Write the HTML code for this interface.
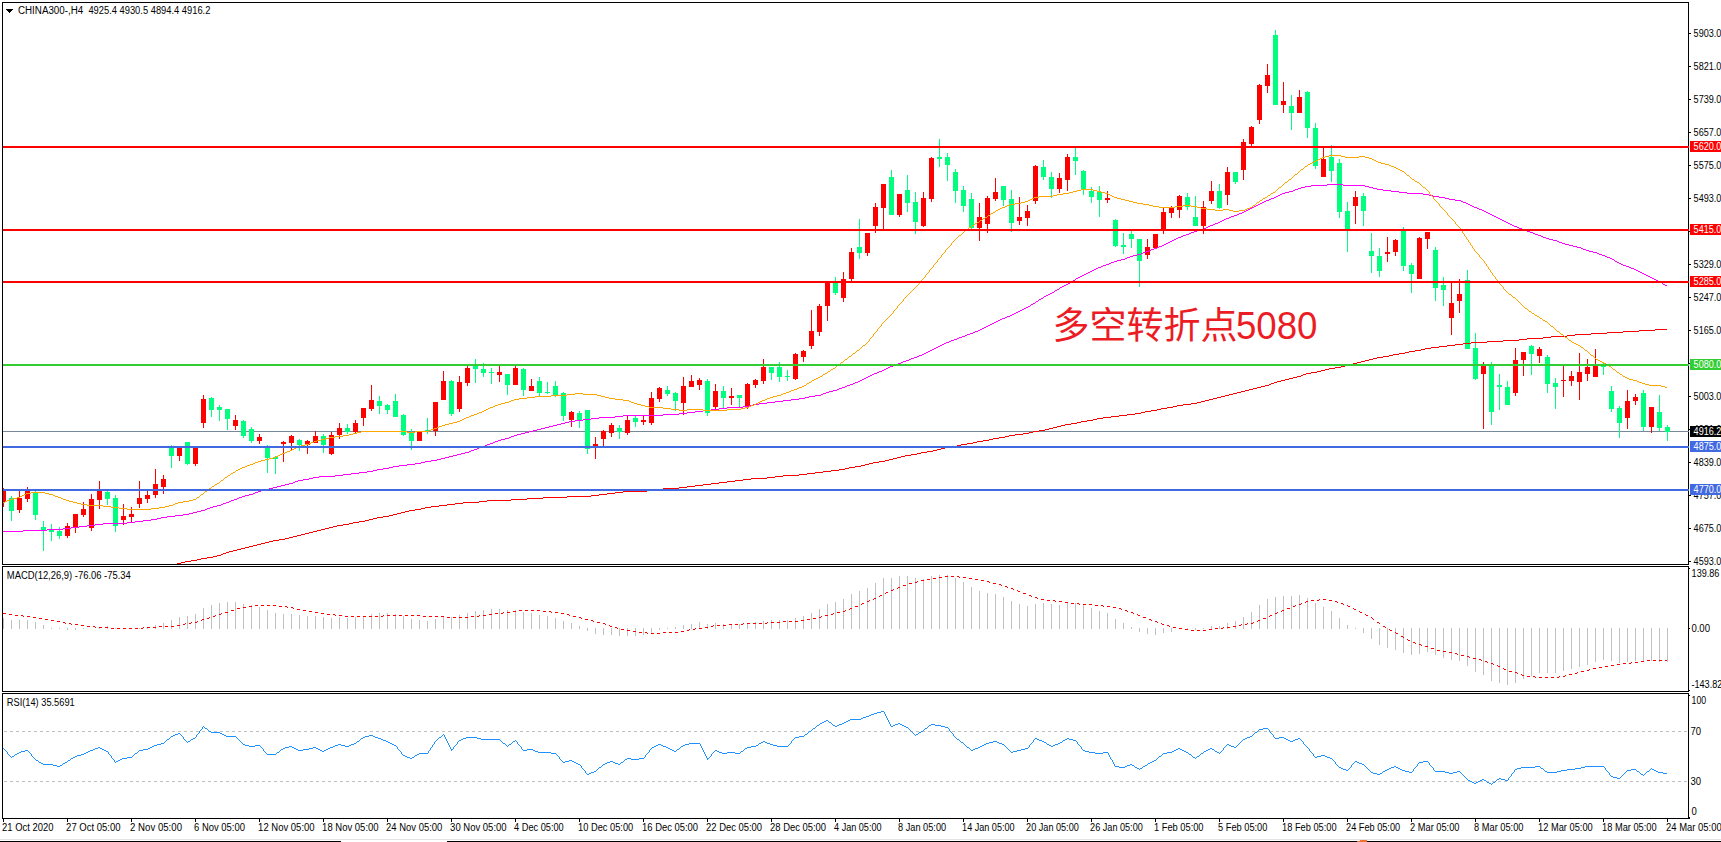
<!DOCTYPE html><html><head><meta charset="utf-8"><title>CHINA300 H4</title><style>html,body{margin:0;padding:0;background:#fff;width:1721px;height:842px;overflow:hidden}svg{display:block}</style></head><body><svg width="1721" height="842" viewBox="0 0 1721 842" font-family="'Liberation Sans',sans-serif" shape-rendering="crispEdges" text-rendering="optimizeLegibility"><rect x="2" y="2" width="1687" height="1" fill="#000"/><rect x="2" y="564" width="1687" height="1" fill="#000"/><rect x="2" y="2" width="1" height="563" fill="#000"/><rect x="1688" y="2" width="1" height="563" fill="#000"/><rect x="2" y="566" width="1687" height="1" fill="#000"/><rect x="2" y="691" width="1687" height="1" fill="#000"/><rect x="2" y="566" width="1" height="126" fill="#000"/><rect x="1688" y="566" width="1" height="126" fill="#000"/><rect x="2" y="693" width="1687" height="1" fill="#000"/><rect x="2" y="818" width="1687" height="1" fill="#000"/><rect x="2" y="693" width="1" height="126" fill="#000"/><rect x="1688" y="693" width="1" height="126" fill="#000"/><clipPath id="cm"><rect x="3" y="3" width="1685" height="561"/></clipPath><rect x="3" y="431" width="1686" height="1" fill="#778899"/><g clip-path="url(#cm)"><path d="M3,488h1v19h-1z M1,489h5v13h-5z M19,491h1v22h-1z M17,498h5v12h-5z M27,487h1v15h-1z M25,491h5v8h-5z M67,523h1v15h-1z M65,526h5v10h-5z M75,514h1v19h-1z M73,514h5v13h-5z M83,502h1v15h-1z M81,509h5v6h-5z M91,494h1v37h-1z M89,499h5v29h-5z M99,481h1v28h-1z M97,491h5v9h-5z M123,504h1v21h-1z M121,516h5v4h-5z M131,507h1v15h-1z M129,514h5v3h-5z M139,481h1v27h-1z M137,498h5v6h-5z M147,491h1v12h-1z M145,495h5v4h-5z M155,469h1v29h-1z M153,484h5v11h-5z M163,475h1v19h-1z M161,479h5v8h-5z M179,448h1v13h-1z M177,448h5v8h-5z M195,447h1v19h-1z M193,447h5v17h-5z M203,395h1v33h-1z M201,399h5v24h-5z M235,415h1v15h-1z M233,420h5v6h-5z M259,434h1v10h-1z M257,437h5v4h-5z M283,441h1v21h-1z M281,442h5v2h-5z M291,435h1v15h-1z M289,436h5v7h-5z M307,440h1v14h-1z M305,441h5v4h-5z M315,431h1v12h-1z M313,436h5v7h-5z M331,432h1v23h-1z M329,435h5v19h-5z M339,423h1v16h-1z M337,428h5v7h-5z M355,420h1v13h-1z M353,423h5v9h-5z M363,408h1v18h-1z M361,408h5v10h-5z M371,385h1v26h-1z M369,400h5v9h-5z M419,432h1v9h-1z M417,432h5v9h-5z M435,402h1v34h-1z M433,402h5v29h-5z M443,371h1v29h-1z M441,381h5v19h-5z M459,376h1v36h-1z M457,382h5v27h-5z M467,366h1v20h-1z M465,368h5v15h-5z M499,366h1v16h-1z M497,372h5v3h-5z M515,366h1v19h-1z M513,368h5v17h-5z M531,379h1v12h-1z M529,386h5v5h-5z M571,411h1v16h-1z M569,412h5v8h-5z M595,437h1v22h-1z M593,444h5v2h-5z M603,430h1v16h-1z M601,431h5v8h-5z M611,423h1v14h-1z M609,425h5v8h-5z M627,416h1v19h-1z M625,420h5v13h-5z M643,416h1v9h-1z M641,420h5v2h-5z M651,392h1v33h-1z M649,398h5v25h-5z M659,387h1v15h-1z M657,388h5v11h-5z M683,377h1v38h-1z M681,386h5v17h-5z M691,375h1v12h-1z M689,381h5v6h-5z M699,378h1v12h-1z M697,380h5v5h-5z M715,384h1v25h-1z M713,391h5v16h-5z M731,388h1v17h-1z M729,396h5v2h-5z M747,383h1v26h-1z M745,384h5v22h-5z M755,379h1v9h-1z M753,380h5v5h-5z M763,359h1v25h-1z M761,367h5v14h-5z M795,353h1v27h-1z M793,354h5v25h-5z M803,350h1v12h-1z M801,351h5v6h-5z M811,310h1v39h-1z M809,331h5v15h-5z M819,304h1v32h-1z M817,306h5v26h-5z M827,282h1v39h-1z M825,282h5v24h-5z M843,272h1v30h-1z M841,279h5v19h-5z M851,248h1v33h-1z M849,252h5v27h-5z M867,233h1v23h-1z M865,233h5v20h-5z M875,203h1v30h-1z M873,207h5v19h-5z M883,184h1v46h-1z M881,184h5v24h-5z M899,194h1v23h-1z M897,194h5v21h-5z M923,192h1v35h-1z M921,198h5v28h-5z M931,157h1v45h-1z M929,158h5v41h-5z M979,203h1v38h-1z M977,217h5v11h-5z M987,196h1v37h-1z M985,198h5v26h-5z M995,178h1v23h-1z M993,192h5v7h-5z M1019,197h1v28h-1z M1017,217h5v4h-5z M1027,205h1v21h-1z M1025,211h5v7h-5z M1035,165h1v39h-1z M1033,166h5v35h-5z M1059,173h1v20h-1z M1057,178h5v11h-5z M1067,154h1v37h-1z M1065,157h5v23h-5z M1107,191h1v12h-1z M1105,198h5v2h-5z M1147,239h1v20h-1z M1145,247h5v8h-5z M1155,234h1v14h-1z M1153,234h5v14h-5z M1163,208h1v26h-1z M1161,212h5v18h-5z M1171,206h1v12h-1z M1169,208h5v5h-5z M1179,195h1v23h-1z M1177,196h5v14h-5z M1203,201h1v33h-1z M1201,207h5v19h-5z M1211,181h1v23h-1z M1209,191h5v10h-5z M1227,167h1v38h-1z M1225,172h5v23h-5z M1243,139h1v41h-1z M1241,142h5v28h-5z M1251,126h1v21h-1z M1249,127h5v17h-5z M1259,84h1v40h-1z M1257,85h5v35h-5z M1267,64h1v29h-1z M1265,75h5v11h-5z M1283,82h1v31h-1z M1281,101h5v4h-5z M1299,90h1v23h-1z M1297,97h5v16h-5z M1323,147h1v30h-1z M1321,159h5v18h-5z M1355,191h1v33h-1z M1353,197h5v9h-5z M1387,237h1v25h-1z M1385,252h5v2h-5z M1395,239h1v17h-1z M1393,240h5v12h-5z M1419,237h1v42h-1z M1417,238h5v41h-5z M1427,232h1v17h-1z M1425,232h5v7h-5z M1451,283h1v52h-1z M1449,303h5v15h-5z M1459,279h1v34h-1z M1457,294h5v7h-5z M1483,362h1v67h-1z M1481,366h5v8h-5z M1515,348h1v48h-1z M1513,360h5v33h-5z M1523,352h1v24h-1z M1521,352h5v8h-5z M1539,347h1v16h-1z M1537,349h5v7h-5z M1563,366h1v31h-1z M1561,380h5v1h-5z M1571,371h1v15h-1z M1569,376h5v5h-5z M1579,353h1v47h-1z M1577,372h5v10h-5z M1587,359h1v22h-1z M1585,367h5v7h-5z M1595,349h1v28h-1z M1593,366h5v11h-5z M1627,390h1v39h-1z M1625,401h5v17h-5z M1635,394h1v11h-1z M1633,397h5v4h-5z M1651,407h1v26h-1z M1649,407h5v20h-5z " fill="#FF0000"/><path d="M11,496h1v25h-1z M9,498h5v13h-5z M35,491h1v29h-1z M33,492h5v23h-5z M43,521h1v30h-1z M41,527h5v3h-5z M51,524h1v17h-1z M49,530h5v2h-5z M59,527h1v12h-1z M57,531h5v5h-5z M107,491h1v14h-1z M105,492h5v7h-5z M115,495h1v37h-1z M113,498h5v28h-5z M171,445h1v23h-1z M169,448h5v8h-5z M187,442h1v23h-1z M185,442h5v22h-5z M211,397h1v20h-1z M209,398h5v12h-5z M219,405h1v16h-1z M217,407h5v3h-5z M227,409h1v21h-1z M225,409h5v10h-5z M243,420h1v18h-1z M241,421h5v15h-5z M251,427h1v16h-1z M249,429h5v12h-5z M267,445h1v28h-1z M265,448h5v10h-5z M275,456h1v18h-1z M273,457h5v2h-5z M299,439h1v12h-1z M297,440h5v5h-5z M323,434h1v19h-1z M321,436h5v9h-5z M347,424h1v10h-1z M345,428h5v4h-5z M379,396h1v18h-1z M377,401h5v5h-5z M387,404h1v10h-1z M385,405h5v5h-5z M395,394h1v23h-1z M393,401h5v16h-5z M403,414h1v22h-1z M401,415h5v20h-5z M411,429h1v21h-1z M409,433h5v8h-5z M427,418h1v16h-1z M425,430h5v1h-5z M451,380h1v36h-1z M449,381h5v33h-5z M475,359h1v24h-1z M473,365h5v4h-5z M483,363h1v14h-1z M481,369h5v4h-5z M491,368h1v16h-1z M489,372h5v1h-5z M507,374h1v21h-1z M505,374h5v11h-5z M523,368h1v28h-1z M521,369h5v21h-5z M539,377h1v19h-1z M537,381h5v12h-5z M547,382h1v12h-1z M545,392h5v1h-5z M555,381h1v16h-1z M553,386h5v9h-5z M563,392h1v29h-1z M561,393h5v23h-5z M579,411h1v17h-1z M577,413h5v8h-5z M587,410h1v44h-1z M585,410h5v39h-5z M619,425h1v14h-1z M617,428h5v4h-5z M635,416h1v11h-1z M633,418h5v4h-5z M667,386h1v10h-1z M665,390h5v4h-5z M675,392h1v19h-1z M673,393h5v8h-5z M707,379h1v37h-1z M705,381h5v32h-5z M723,386h1v22h-1z M721,391h5v7h-5z M739,395h1v13h-1z M737,395h5v3h-5z M771,367h1v13h-1z M769,367h5v6h-5z M779,362h1v20h-1z M777,367h5v10h-5z M787,370h1v11h-1z M785,376h5v1h-5z M835,277h1v18h-1z M833,283h5v10h-5z M859,219h1v40h-1z M857,247h5v6h-5z M891,170h1v45h-1z M889,177h5v38h-5z M907,175h1v37h-1z M905,190h5v13h-5z M915,192h1v42h-1z M913,202h5v20h-5z M939,139h1v28h-1z M937,157h5v2h-5z M947,153h1v28h-1z M945,157h5v8h-5z M955,169h1v34h-1z M953,172h5v19h-5z M963,186h1v26h-1z M961,190h5v16h-5z M971,193h1v36h-1z M969,199h5v29h-5z M1003,186h1v20h-1z M1001,186h5v14h-5z M1011,190h1v42h-1z M1009,199h5v24h-5z M1043,160h1v20h-1z M1041,167h5v10h-5z M1051,172h1v26h-1z M1049,177h5v12h-5z M1075,148h1v27h-1z M1073,157h5v4h-5z M1083,170h1v25h-1z M1081,171h5v18h-5z M1091,187h1v16h-1z M1089,191h5v6h-5z M1099,186h1v31h-1z M1097,192h5v8h-5z M1115,219h1v28h-1z M1113,220h5v26h-5z M1123,233h1v21h-1z M1121,245h5v2h-5z M1131,231h1v17h-1z M1129,234h5v5h-5z M1139,239h1v48h-1z M1137,239h5v22h-5z M1187,193h1v17h-1z M1185,197h5v10h-5z M1195,196h1v30h-1z M1193,217h5v9h-5z M1219,184h1v25h-1z M1217,191h5v17h-5z M1235,172h1v12h-1z M1233,172h5v10h-5z M1275,30h1v75h-1z M1273,35h5v70h-5z M1291,95h1v35h-1z M1289,106h5v7h-5z M1307,91h1v47h-1z M1305,92h5v36h-5z M1315,123h1v46h-1z M1313,128h5v38h-5z M1331,145h1v37h-1z M1329,157h5v14h-5z M1339,159h1v59h-1z M1337,163h5v49h-5z M1347,202h1v50h-1z M1345,211h5v18h-5z M1363,193h1v33h-1z M1361,196h5v15h-5z M1371,233h1v40h-1z M1369,251h5v5h-5z M1379,248h1v29h-1z M1377,256h5v15h-5z M1403,227h1v44h-1z M1401,231h5v35h-5z M1411,263h1v30h-1z M1409,265h5v9h-5z M1435,247h1v54h-1z M1433,250h5v38h-5z M1443,277h1v29h-1z M1441,285h5v5h-5z M1467,270h1v79h-1z M1465,280h5v69h-5z M1475,333h1v47h-1z M1473,348h5v31h-5z M1491,362h1v63h-1z M1489,365h5v47h-5z M1499,374h1v36h-1z M1497,385h5v2h-5z M1507,381h1v24h-1z M1505,387h5v18h-5z M1531,345h1v30h-1z M1529,346h5v8h-5z M1547,355h1v38h-1z M1545,357h5v27h-5z M1555,378h1v31h-1z M1553,383h5v4h-5z M1603,362h1v13h-1z M1601,366h5v1h-5z M1611,386h1v26h-1z M1609,391h5v18h-5z M1619,406h1v32h-1z M1617,408h5v15h-5z M1643,390h1v41h-1z M1641,393h5v34h-5z M1659,395h1v36h-1z M1657,412h5v16h-5z M1667,425h1v16h-1z M1665,427h5v5h-5z " fill="#00FF7F"/><path d="M1655,329h12v1h-12zM1639,330h16v1h-16zM1623,331h16v1h-16zM1607,332h16v1h-16zM1591,333h16v1h-16zM1575,334h16v1h-16zM1567,335h8v1h-8zM1551,336h16v1h-16zM1543,337h8v1h-8zM1527,338h16v1h-16zM1519,339h8v1h-8zM1503,340h16v1h-16zM1487,341h16v1h-16zM1471,342h16v1h-16zM1463,343h8v1h-8zM1455,344h8v1h-8zM1447,345h8v1h-8zM1439,346h8v1h-8zM1431,347h8v1h-8zM1425,348h6v1h-6zM1421,349h4v1h-4zM1415,350h6v1h-6zM1409,351h6v1h-6zM1405,352h4v1h-4zM1399,353h6v1h-6zM1393,354h6v1h-6zM1389,355h4v1h-4zM1383,356h6v1h-6zM1377,357h6v1h-6zM1373,358h4v1h-4zM1369,359h4v1h-4zM1365,360h4v1h-4zM1361,361h4v1h-4zM1357,362h4v1h-4zM1353,363h4v1h-4zM1349,364h4v1h-4zM1345,365h4v1h-4zM1341,366h4v1h-4zM1335,367h6v1h-6zM1329,368h6v1h-6zM1325,369h4v1h-4zM1321,370h4v1h-4zM1317,371h4v1h-4zM1311,372h6v1h-6zM1306,373h5v1h-5zM1303,374h3v1h-3zM1301,375h2v1h-2zM1297,376h4v1h-4zM1293,377h4v1h-4zM1289,378h4v1h-4zM1285,379h4v1h-4zM1281,380h4v1h-4zM1277,381h4v1h-4zM1274,382h3v1h-3zM1271,383h3v1h-3zM1269,384h2v1h-2zM1265,385h4v1h-4zM1261,386h4v1h-4zM1257,387h4v1h-4zM1253,388h4v1h-4zM1249,389h4v1h-4zM1245,390h4v1h-4zM1241,391h4v1h-4zM1237,392h4v1h-4zM1233,393h4v1h-4zM1229,394h4v1h-4zM1225,395h4v1h-4zM1221,396h4v1h-4zM1217,397h4v1h-4zM1213,398h4v1h-4zM1209,399h4v1h-4zM1205,400h4v1h-4zM1201,401h4v1h-4zM1197,402h4v1h-4zM1191,403h6v1h-6zM1183,404h8v1h-8zM1177,405h6v1h-6zM1173,406h4v1h-4zM1167,407h6v1h-6zM1161,408h6v1h-6zM1157,409h4v1h-4zM1151,410h6v1h-6zM1145,411h6v1h-6zM1141,412h4v1h-4zM1135,413h6v1h-6zM1127,414h8v1h-8zM1119,415h8v1h-8zM1111,416h8v1h-8zM1103,417h8v1h-8zM1097,418h6v1h-6zM1093,419h4v1h-4zM1087,420h6v1h-6zM1081,421h6v1h-6zM1077,422h4v1h-4zM1071,423h6v1h-6zM1065,424h6v1h-6zM1061,425h4v1h-4zM1057,426h4v1h-4zM1053,427h4v1h-4zM1049,428h4v1h-4zM1045,429h4v1h-4zM1039,430h6v1h-6zM1033,431h6v1h-6zM1029,432h4v1h-4zM1023,433h6v1h-6zM1015,434h8v1h-8zM1009,435h6v1h-6zM1005,436h4v1h-4zM999,437h6v1h-6zM993,438h6v1h-6zM989,439h4v1h-4zM983,440h6v1h-6zM977,441h6v1h-6zM973,442h4v1h-4zM967,443h6v1h-6zM961,444h6v1h-6zM957,445h4v1h-4zM951,446h6v1h-6zM945,447h6v1h-6zM941,448h4v1h-4zM937,449h4v1h-4zM933,450h4v1h-4zM927,451h6v1h-6zM921,452h6v1h-6zM917,453h4v1h-4zM911,454h6v1h-6zM905,455h6v1h-6zM901,456h4v1h-4zM897,457h4v1h-4zM893,458h4v1h-4zM889,459h4v1h-4zM885,460h4v1h-4zM879,461h6v1h-6zM873,462h6v1h-6zM869,463h4v1h-4zM865,464h4v1h-4zM861,465h4v1h-4zM855,466h6v1h-6zM849,467h6v1h-6zM845,468h4v1h-4zM839,469h6v1h-6zM831,470h8v1h-8zM823,471h8v1h-8zM815,472h8v1h-8zM807,473h8v1h-8zM799,474h8v1h-8zM783,475h16v1h-16zM775,476h8v1h-8zM767,477h8v1h-8zM751,478h16v1h-16zM743,479h8v1h-8zM735,480h8v1h-8zM727,481h8v1h-8zM719,482h8v1h-8zM711,483h8v1h-8zM703,484h8v1h-8zM695,485h8v1h-8zM687,486h8v1h-8zM679,487h8v1h-8zM663,488h16v1h-16zM655,489h8v1h-8zM647,490h8v1h-8zM623,491h24v1h-24zM615,492h8v1h-8zM607,493h8v1h-8zM599,494h8v1h-8zM591,495h8v1h-8zM567,496h24v1h-24zM543,497h24v1h-24zM527,498h16v1h-16zM511,499h16v1h-16zM487,500h24v1h-24zM479,501h8v1h-8zM463,502h16v1h-16zM455,503h8v1h-8zM447,504h8v1h-8zM439,505h8v1h-8zM431,506h8v1h-8zM425,507h6v1h-6zM421,508h4v1h-4zM415,509h6v1h-6zM409,510h6v1h-6zM405,511h4v1h-4zM401,512h4v1h-4zM397,513h4v1h-4zM393,514h4v1h-4zM389,515h4v1h-4zM383,516h6v1h-6zM377,517h6v1h-6zM373,518h4v1h-4zM369,519h4v1h-4zM365,520h4v1h-4zM359,521h6v1h-6zM353,522h6v1h-6zM349,523h4v1h-4zM343,524h6v1h-6zM337,525h6v1h-6zM333,526h4v1h-4zM329,527h4v1h-4zM325,528h4v1h-4zM321,529h4v1h-4zM317,530h4v1h-4zM313,531h4v1h-4zM309,532h4v1h-4zM305,533h4v1h-4zM301,534h4v1h-4zM297,535h4v1h-4zM293,536h4v1h-4zM289,537h4v1h-4zM285,538h4v1h-4zM279,539h6v1h-6zM273,540h6v1h-6zM269,541h4v1h-4zM265,542h4v1h-4zM261,543h4v1h-4zM257,544h4v1h-4zM253,545h4v1h-4zM249,546h4v1h-4zM245,547h4v1h-4zM241,548h4v1h-4zM237,549h4v1h-4zM233,550h4v1h-4zM229,551h4v1h-4zM226,552h3v1h-3zM223,553h3v1h-3zM221,554h2v1h-2zM217,555h4v1h-4zM213,556h4v1h-4zM207,557h6v1h-6zM201,558h6v1h-6zM197,559h4v1h-4zM191,560h6v1h-6zM185,561h6v1h-6zM181,562h4v1h-4zM177,563h4v1h-4zM173,564h4v1h-4zM169,565h4v1h-4zM165,566h4v1h-4zM161,567h4v1h-4zM157,568h4v1h-4zM151,569h6v1h-6zM145,570h6v1h-6zM141,571h4v1h-4zM137,572h4v1h-4zM133,573h4v1h-4zM129,574h4v1h-4zM125,575h4v1h-4zM121,576h4v1h-4zM117,577h4v1h-4zM113,578h4v1h-4zM109,579h4v1h-4zM105,580h4v1h-4zM101,581h4v1h-4zM97,582h4v1h-4zM93,583h4v1h-4zM87,584h6v1h-6zM81,585h6v1h-6zM77,586h4v1h-4zM73,587h4v1h-4zM69,588h4v1h-4zM65,589h4v1h-4zM61,590h4v1h-4zM57,591h4v1h-4zM53,592h4v1h-4zM49,593h4v1h-4zM45,594h4v1h-4zM41,595h4v1h-4zM37,596h4v1h-4zM31,597h6v1h-6zM25,598h6v1h-6zM21,599h4v1h-4zM17,600h4v1h-4zM13,601h4v1h-4zM9,602h4v1h-4zM5,603h4v1h-4zM3,604h2v1h-2z" fill="#FF0000"/><path d="M1327,184h16v1h-16zM1311,185h16v1h-16zM1343,185h22v1h-22zM1305,186h6v1h-6zM1365,186h4v1h-4zM1301,187h4v1h-4zM1369,187h4v1h-4zM1298,188h3v1h-3zM1373,188h4v1h-4zM1295,189h3v1h-3zM1377,189h6v1h-6zM1293,190h2v1h-2zM1383,190h8v1h-8zM1289,191h4v1h-4zM1391,191h8v1h-8zM1285,192h4v1h-4zM1399,192h8v1h-8zM1282,193h3v1h-3zM1407,193h16v1h-16zM1280,194h2v1h-2zM1423,194h6v1h-6zM1278,195h2v1h-2zM1429,195h4v1h-4zM1276,196h2v1h-2zM1433,196h6v1h-6zM1274,197h2v1h-2zM1439,197h6v1h-6zM1271,198h3v1h-3zM1445,198h4v1h-4zM1269,199h2v1h-2zM1449,199h6v1h-6zM1266,200h3v1h-3zM1455,200h6v1h-6zM1264,201h2v1h-2zM1461,201h2v1h-2zM1262,202h2v1h-2zM1463,202h3v1h-3zM1260,203h2v1h-2zM1466,203h2v1h-2zM1258,204h2v1h-2zM1468,204h2v1h-2zM1256,205h2v1h-2zM1470,205h2v1h-2zM1254,206h2v1h-2zM1472,206h2v1h-2zM1252,207h2v1h-2zM1474,207h3v1h-3zM1250,208h2v1h-2zM1477,208h2v1h-2zM1248,209h2v1h-2zM1479,209h3v1h-3zM1246,210h2v1h-2zM1482,210h2v1h-2zM1244,211h2v1h-2zM1484,211h2v1h-2zM1242,212h2v1h-2zM1486,212h2v1h-2zM1239,213h3v1h-3zM1488,213h2v1h-2zM1237,214h2v1h-2zM1490,214h2v1h-2zM1234,215h3v1h-3zM1492,215h2v1h-2zM1231,216h3v1h-3zM1494,216h2v1h-2zM1229,217h2v1h-2zM1496,217h2v1h-2zM1226,218h3v1h-3zM1498,218h2v1h-2zM1224,219h2v1h-2zM1500,219h2v1h-2zM1222,220h2v1h-2zM1502,220h2v1h-2zM1220,221h2v1h-2zM1504,221h2v1h-2zM1218,222h2v1h-2zM1506,222h2v1h-2zM1215,223h3v1h-3zM1508,223h2v1h-2zM1213,224h2v1h-2zM1510,224h2v1h-2zM1210,225h3v1h-3zM1512,225h2v1h-2zM1208,226h2v1h-2zM1514,226h3v1h-3zM1206,227h2v1h-2zM1517,227h2v1h-2zM1204,228h2v1h-2zM1519,228h3v1h-3zM1201,229h3v1h-3zM1522,229h3v1h-3zM1197,230h4v1h-4zM1525,230h2v1h-2zM1194,231h3v1h-3zM1527,231h3v1h-3zM1191,232h3v1h-3zM1530,232h3v1h-3zM1189,233h2v1h-2zM1533,233h2v1h-2zM1186,234h3v1h-3zM1535,234h3v1h-3zM1183,235h3v1h-3zM1538,235h3v1h-3zM1181,236h2v1h-2zM1541,236h2v1h-2zM1178,237h3v1h-3zM1543,237h3v1h-3zM1176,238h2v1h-2zM1546,238h3v1h-3zM1174,239h2v1h-2zM1549,239h4v1h-4zM1172,240h2v1h-2zM1553,240h4v1h-4zM1170,241h2v1h-2zM1557,241h2v1h-2zM1168,242h2v1h-2zM1559,242h3v1h-3zM1166,243h2v1h-2zM1562,243h3v1h-3zM1164,244h2v1h-2zM1565,244h4v1h-4zM1162,245h2v1h-2zM1569,245h4v1h-4zM1159,246h3v1h-3zM1573,246h4v1h-4zM1157,247h2v1h-2zM1577,247h4v1h-4zM1154,248h3v1h-3zM1581,248h2v1h-2zM1151,249h3v1h-3zM1583,249h3v1h-3zM1149,250h2v1h-2zM1586,250h3v1h-3zM1146,251h3v1h-3zM1589,251h4v1h-4zM1143,252h3v1h-3zM1593,252h4v1h-4zM1141,253h2v1h-2zM1597,253h2v1h-2zM1137,254h4v1h-4zM1599,254h3v1h-3zM1133,255h4v1h-4zM1602,255h3v1h-3zM1130,256h3v1h-3zM1605,256h2v1h-2zM1127,257h3v1h-3zM1607,257h3v1h-3zM1125,258h2v1h-2zM1610,258h2v1h-2zM1121,259h4v1h-4zM1612,259h2v1h-2zM1117,260h4v1h-4zM1614,260h1v1h-1zM1114,261h3v1h-3zM1615,261h2v1h-2zM1111,262h3v1h-3zM1617,262h2v1h-2zM1109,263h2v1h-2zM1619,263h2v1h-2zM1106,264h3v1h-3zM1621,264h2v1h-2zM1103,265h3v1h-3zM1623,265h3v1h-3zM1101,266h2v1h-2zM1626,266h3v1h-3zM1098,267h3v1h-3zM1629,267h2v1h-2zM1096,268h2v1h-2zM1631,268h3v1h-3zM1094,269h2v1h-2zM1634,269h2v1h-2zM1092,270h2v1h-2zM1636,270h2v1h-2zM1090,271h2v1h-2zM1638,271h2v1h-2zM1088,272h2v1h-2zM1640,272h2v1h-2zM1086,273h2v1h-2zM1642,273h2v1h-2zM1084,274h2v1h-2zM1644,274h2v1h-2zM1082,275h2v1h-2zM1646,275h2v1h-2zM1080,276h2v1h-2zM1648,276h2v1h-2zM1078,277h2v1h-2zM1650,277h2v1h-2zM1076,278h2v1h-2zM1652,278h2v1h-2zM1075,279h1v1h-1zM1654,279h2v1h-2zM1073,280h2v1h-2zM1656,280h2v1h-2zM1071,281h2v1h-2zM1658,281h2v1h-2zM1070,282h1v1h-1zM1660,282h2v1h-2zM1068,283h2v1h-2zM1662,283h1v1h-1zM1066,284h2v1h-2zM1663,284h2v1h-2zM1064,285h2v1h-2zM1665,285h2v1h-2zM1062,286h2v1h-2zM1060,287h2v1h-2zM1059,288h1v1h-1zM1057,289h2v1h-2zM1055,290h2v1h-2zM1054,291h1v1h-1zM1052,292h2v1h-2zM1050,293h2v1h-2zM1048,294h2v1h-2zM1046,295h2v1h-2zM1044,296h2v1h-2zM1043,297h1v1h-1zM1041,298h2v1h-2zM1039,299h2v1h-2zM1038,300h1v1h-1zM1036,301h2v1h-2zM1035,302h1v1h-1zM1033,303h2v1h-2zM1031,304h2v1h-2zM1030,305h1v1h-1zM1028,306h2v1h-2zM1026,307h2v1h-2zM1024,308h2v1h-2zM1022,309h2v1h-2zM1020,310h2v1h-2zM1018,311h2v1h-2zM1016,312h2v1h-2zM1014,313h2v1h-2zM1012,314h2v1h-2zM1010,315h2v1h-2zM1007,316h3v1h-3zM1005,317h2v1h-2zM1002,318h3v1h-3zM1000,319h2v1h-2zM998,320h2v1h-2zM996,321h2v1h-2zM994,322h2v1h-2zM992,323h2v1h-2zM990,324h2v1h-2zM988,325h2v1h-2zM986,326h2v1h-2zM984,327h2v1h-2zM982,328h2v1h-2zM980,329h2v1h-2zM978,330h2v1h-2zM975,331h3v1h-3zM973,332h2v1h-2zM970,333h3v1h-3zM967,334h3v1h-3zM965,335h2v1h-2zM962,336h3v1h-3zM959,337h3v1h-3zM957,338h2v1h-2zM954,339h3v1h-3zM951,340h3v1h-3zM949,341h2v1h-2zM946,342h3v1h-3zM944,343h2v1h-2zM942,344h2v1h-2zM940,345h2v1h-2zM938,346h2v1h-2zM936,347h2v1h-2zM934,348h2v1h-2zM932,349h2v1h-2zM930,350h2v1h-2zM928,351h2v1h-2zM926,352h2v1h-2zM924,353h2v1h-2zM922,354h2v1h-2zM919,355h3v1h-3zM917,356h2v1h-2zM914,357h3v1h-3zM911,358h3v1h-3zM909,359h2v1h-2zM906,360h3v1h-3zM903,361h3v1h-3zM901,362h2v1h-2zM898,363h3v1h-3zM895,364h3v1h-3zM893,365h2v1h-2zM890,366h3v1h-3zM888,367h2v1h-2zM886,368h2v1h-2zM884,369h2v1h-2zM882,370h2v1h-2zM879,371h3v1h-3zM877,372h2v1h-2zM874,373h3v1h-3zM872,374h2v1h-2zM870,375h2v1h-2zM868,376h2v1h-2zM866,377h2v1h-2zM864,378h2v1h-2zM862,379h2v1h-2zM860,380h2v1h-2zM858,381h2v1h-2zM855,382h3v1h-3zM853,383h2v1h-2zM850,384h3v1h-3zM847,385h3v1h-3zM845,386h2v1h-2zM842,387h3v1h-3zM839,388h3v1h-3zM837,389h2v1h-2zM833,390h4v1h-4zM829,391h4v1h-4zM826,392h3v1h-3zM823,393h3v1h-3zM821,394h2v1h-2zM815,395h6v1h-6zM809,396h6v1h-6zM805,397h4v1h-4zM799,398h6v1h-6zM791,399h8v1h-8zM783,400h8v1h-8zM775,401h8v1h-8zM767,402h8v1h-8zM759,403h8v1h-8zM753,404h6v1h-6zM749,405h4v1h-4zM743,406h6v1h-6zM727,407h16v1h-16zM719,408h8v1h-8zM711,409h8v1h-8zM703,410h8v1h-8zM695,411h8v1h-8zM687,412h8v1h-8zM679,413h8v1h-8zM663,414h16v1h-16zM623,415h40v1h-40zM615,416h8v1h-8zM599,417h16v1h-16zM591,418h8v1h-8zM583,419h8v1h-8zM575,420h8v1h-8zM569,421h6v1h-6zM565,422h4v1h-4zM561,423h4v1h-4zM557,424h4v1h-4zM553,425h4v1h-4zM549,426h4v1h-4zM545,427h4v1h-4zM541,428h4v1h-4zM537,429h4v1h-4zM533,430h4v1h-4zM529,431h4v1h-4zM525,432h4v1h-4zM521,433h4v1h-4zM517,434h4v1h-4zM514,435h3v1h-3zM511,436h3v1h-3zM509,437h2v1h-2zM505,438h4v1h-4zM501,439h4v1h-4zM498,440h3v1h-3zM495,441h3v1h-3zM493,442h2v1h-2zM490,443h3v1h-3zM487,444h3v1h-3zM485,445h2v1h-2zM482,446h3v1h-3zM479,447h3v1h-3zM477,448h2v1h-2zM474,449h3v1h-3zM471,450h3v1h-3zM469,451h2v1h-2zM465,452h4v1h-4zM461,453h4v1h-4zM457,454h4v1h-4zM453,455h4v1h-4zM449,456h4v1h-4zM445,457h4v1h-4zM441,458h4v1h-4zM437,459h4v1h-4zM431,460h6v1h-6zM425,461h6v1h-6zM421,462h4v1h-4zM415,463h6v1h-6zM407,464h8v1h-8zM399,465h8v1h-8zM393,466h6v1h-6zM389,467h4v1h-4zM383,468h6v1h-6zM377,469h6v1h-6zM373,470h4v1h-4zM367,471h6v1h-6zM359,472h8v1h-8zM351,473h8v1h-8zM343,474h8v1h-8zM335,475h8v1h-8zM319,476h16v1h-16zM313,477h6v1h-6zM309,478h4v1h-4zM303,479h6v1h-6zM298,480h5v1h-5zM295,481h3v1h-3zM293,482h2v1h-2zM289,483h4v1h-4zM285,484h4v1h-4zM281,485h4v1h-4zM277,486h4v1h-4zM273,487h4v1h-4zM269,488h4v1h-4zM265,489h4v1h-4zM261,490h4v1h-4zM258,491h3v1h-3zM255,492h3v1h-3zM253,493h2v1h-2zM249,494h4v1h-4zM245,495h4v1h-4zM242,496h3v1h-3zM239,497h3v1h-3zM237,498h2v1h-2zM234,499h3v1h-3zM231,500h3v1h-3zM229,501h2v1h-2zM226,502h3v1h-3zM223,503h3v1h-3zM221,504h2v1h-2zM217,505h4v1h-4zM213,506h4v1h-4zM210,507h3v1h-3zM207,508h3v1h-3zM205,509h2v1h-2zM201,510h4v1h-4zM197,511h4v1h-4zM193,512h4v1h-4zM189,513h4v1h-4zM183,514h6v1h-6zM175,515h8v1h-8zM167,516h8v1h-8zM161,517h6v1h-6zM157,518h4v1h-4zM151,519h6v1h-6zM143,520h8v1h-8zM135,521h8v1h-8zM127,522h8v1h-8zM103,523h24v1h-24zM95,524h8v1h-8zM87,525h8v1h-8zM79,526h8v1h-8zM71,527h8v1h-8zM63,528h8v1h-8zM47,529h16v1h-16zM23,530h24v1h-24zM3,531h20v1h-20z" fill="#FF00FF"/><path d="M1329,155h12v1h-12zM1325,156h4v1h-4zM1341,156h4v1h-4zM1359,156h6v1h-6zM1322,157h3v1h-3zM1345,157h14v1h-14zM1365,157h4v1h-4zM1320,158h2v1h-2zM1369,158h3v1h-3zM1318,159h2v1h-2zM1372,159h2v1h-2zM1316,160h2v1h-2zM1374,160h2v1h-2zM1314,161h2v1h-2zM1376,161h2v1h-2zM1312,162h2v1h-2zM1378,162h3v1h-3zM1310,163h2v1h-2zM1381,163h4v1h-4zM1308,164h2v1h-2zM1385,164h4v1h-4zM1307,165h1v1h-1zM1389,165h2v1h-2zM1305,166h2v1h-2zM1391,166h3v1h-3zM1304,167h1v1h-1zM1394,167h2v1h-2zM1303,168h1v1h-1zM1396,168h2v1h-2zM1301,169h2v1h-2zM1398,169h2v1h-2zM1300,170h1v1h-1zM1400,170h2v1h-2zM1299,171h1v1h-1zM1402,171h2v1h-2zM1298,172h1v1h-1zM1404,172h1v1h-1zM1297,173h1v1h-1zM1405,173h1v1h-1zM1295,174h2v1h-2zM1406,174h1v1h-1zM1294,175h1v1h-1zM1407,175h2v1h-2zM1293,176h1v1h-1zM1409,176h1v1h-1zM1292,177h1v1h-1zM1410,177h1v1h-1zM1291,178h1v1h-1zM1411,178h1v1h-1zM1289,179h2v1h-2zM1412,179h2v1h-2zM1288,180h1v1h-1zM1414,180h1v1h-1zM1287,181h1v1h-1zM1415,181h2v1h-2zM1285,182h2v1h-2zM1417,182h2v1h-2zM1284,183h1v1h-1zM1419,183h1v1h-1zM1283,184h1v1h-1zM1420,184h1v1h-1zM1282,185h1v1h-1zM1421,185h1v1h-1zM1281,186h1v1h-1zM1422,186h1v1h-1zM1279,187h2v1h-2zM1423,187h2v1h-2zM1278,188h1v1h-1zM1425,188h1v1h-1zM1081,189h12v1h-12zM1277,189h1v1h-1zM1426,189h1v1h-1zM1077,190h4v1h-4zM1093,190h4v1h-4zM1276,190h1v1h-1zM1427,190h1v1h-1zM1073,191h4v1h-4zM1097,191h4v1h-4zM1275,191h1v1h-1zM1428,191h1v1h-1zM1069,192h4v1h-4zM1101,192h4v1h-4zM1273,192h2v1h-2zM1429,192h1v1h-1zM1063,193h6v1h-6zM1105,193h3v1h-3zM1271,193h2v1h-2zM1429,193h1v1h-1zM1057,194h6v1h-6zM1108,194h2v1h-2zM1270,194h1v1h-1zM1430,194h1v1h-1zM1053,195h4v1h-4zM1110,195h2v1h-2zM1268,195h2v1h-2zM1431,195h1v1h-1zM1039,196h14v1h-14zM1112,196h2v1h-2zM1267,196h1v1h-1zM1432,196h1v1h-1zM1034,197h5v1h-5zM1114,197h3v1h-3zM1265,197h2v1h-2zM1433,197h1v1h-1zM1032,198h2v1h-2zM1117,198h4v1h-4zM1263,198h2v1h-2zM1433,198h1v1h-1zM1030,199h2v1h-2zM1121,199h4v1h-4zM1262,199h1v1h-1zM1434,199h1v1h-1zM1028,200h2v1h-2zM1125,200h4v1h-4zM1260,200h2v1h-2zM1435,200h1v1h-1zM1025,201h3v1h-3zM1129,201h4v1h-4zM1259,201h1v1h-1zM1436,201h1v1h-1zM1021,202h4v1h-4zM1133,202h4v1h-4zM1257,202h2v1h-2zM1437,202h1v1h-1zM1015,203h6v1h-6zM1137,203h6v1h-6zM1256,203h1v1h-1zM1438,203h1v1h-1zM1010,204h5v1h-5zM1143,204h6v1h-6zM1255,204h1v1h-1zM1439,204h1v1h-1zM1007,205h3v1h-3zM1149,205h4v1h-4zM1183,205h8v1h-8zM1253,205h2v1h-2zM1439,205h1v1h-1zM1005,206h2v1h-2zM1153,206h6v1h-6zM1175,206h8v1h-8zM1191,206h6v1h-6zM1252,206h1v1h-1zM1440,206h1v1h-1zM1002,207h3v1h-3zM1159,207h16v1h-16zM1197,207h4v1h-4zM1250,207h2v1h-2zM1441,207h1v1h-1zM1000,208h2v1h-2zM1201,208h6v1h-6zM1247,208h3v1h-3zM1442,208h1v1h-1zM998,209h2v1h-2zM1207,209h8v1h-8zM1223,209h6v1h-6zM1245,209h2v1h-2zM1443,209h1v1h-1zM996,210h2v1h-2zM1215,210h8v1h-8zM1229,210h4v1h-4zM1239,210h6v1h-6zM1444,210h1v1h-1zM995,211h1v1h-1zM1233,211h6v1h-6zM1445,211h1v1h-1zM993,212h2v1h-2zM1446,212h1v1h-1zM991,213h2v1h-2zM1447,213h1v1h-1zM990,214h1v1h-1zM1447,214h1v1h-1zM988,215h2v1h-2zM1448,215h1v1h-1zM987,216h1v1h-1zM1449,216h1v1h-1zM985,217h2v1h-2zM1450,217h1v1h-1zM983,218h2v1h-2zM1451,218h1v1h-1zM982,219h1v1h-1zM1452,219h1v1h-1zM980,220h2v1h-2zM1453,220h1v1h-1zM979,221h1v1h-1zM1454,221h1v1h-1zM977,222h2v1h-2zM1455,222h1v1h-1zM975,223h2v1h-2zM1455,223h1v1h-1zM974,224h1v1h-1zM1456,224h1v1h-1zM972,225h2v1h-2zM1457,225h1v1h-1zM971,226h1v1h-1zM1458,226h1v1h-1zM969,227h2v1h-2zM1459,227h1v1h-1zM968,228h1v1h-1zM1460,228h1v1h-1zM967,229h1v1h-1zM1460,229h1v1h-1zM965,230h2v1h-2zM1461,230h1v1h-1zM964,231h1v1h-1zM1462,231h1v1h-1zM963,232h1v1h-1zM1462,232h1v1h-1zM962,233h1v1h-1zM1463,233h1v1h-1zM961,234h1v1h-1zM1464,234h1v1h-1zM959,235h2v1h-2zM1464,235h1v1h-1zM958,236h1v1h-1zM1465,236h1v1h-1zM957,237h1v1h-1zM1466,237h1v1h-1zM956,238h1v1h-1zM1466,238h1v1h-1zM955,239h1v1h-1zM1467,239h1v1h-1zM954,240h1v1h-1zM1468,240h1v1h-1zM953,241h1v1h-1zM1468,241h1v1h-1zM952,242h1v1h-1zM1469,242h1v1h-1zM951,243h1v1h-1zM1470,243h1v1h-1zM951,244h1v1h-1zM1470,244h1v1h-1zM950,245h1v1h-1zM1471,245h1v1h-1zM949,246h1v1h-1zM1472,246h1v1h-1zM948,247h1v1h-1zM1472,247h1v1h-1zM947,248h1v1h-1zM1473,248h1v1h-1zM946,249h1v1h-1zM1474,249h1v1h-1zM945,250h1v1h-1zM1474,250h1v1h-1zM945,251h1v1h-1zM1475,251h1v1h-1zM944,252h1v1h-1zM1476,252h1v1h-1zM943,253h1v1h-1zM1477,253h1v1h-1zM942,254h1v1h-1zM1478,254h1v1h-1zM941,255h1v1h-1zM1479,255h1v1h-1zM941,256h1v1h-1zM1479,256h1v1h-1zM940,257h1v1h-1zM1480,257h1v1h-1zM939,258h1v1h-1zM1481,258h1v1h-1zM938,259h1v1h-1zM1482,259h1v1h-1zM937,260h1v1h-1zM1483,260h1v1h-1zM937,261h1v1h-1zM1484,261h1v1h-1zM936,262h1v1h-1zM1484,262h1v1h-1zM935,263h1v1h-1zM1485,263h1v1h-1zM934,264h1v1h-1zM1486,264h1v1h-1zM933,265h1v1h-1zM1486,265h1v1h-1zM933,266h1v1h-1zM1487,266h1v1h-1zM932,267h1v1h-1zM1488,267h1v1h-1zM931,268h1v1h-1zM1488,268h1v1h-1zM930,269h1v1h-1zM1489,269h1v1h-1zM929,270h1v1h-1zM1490,270h1v1h-1zM929,271h1v1h-1zM1490,271h1v1h-1zM928,272h1v1h-1zM1491,272h1v1h-1zM927,273h1v1h-1zM1492,273h1v1h-1zM926,274h1v1h-1zM1492,274h1v1h-1zM925,275h1v1h-1zM1493,275h1v1h-1zM925,276h1v1h-1zM1494,276h1v1h-1zM924,277h1v1h-1zM1495,277h1v1h-1zM923,278h1v1h-1zM1495,278h1v1h-1zM922,279h1v1h-1zM1496,279h1v1h-1zM921,280h1v1h-1zM1497,280h1v1h-1zM920,281h1v1h-1zM1498,281h1v1h-1zM919,282h1v1h-1zM1498,282h1v1h-1zM919,283h1v1h-1zM1499,283h1v1h-1zM918,284h1v1h-1zM1500,284h1v1h-1zM917,285h1v1h-1zM1501,285h1v1h-1zM916,286h1v1h-1zM1502,286h1v1h-1zM915,287h1v1h-1zM1503,287h1v1h-1zM914,288h1v1h-1zM1503,288h1v1h-1zM913,289h1v1h-1zM1504,289h1v1h-1zM912,290h1v1h-1zM1505,290h1v1h-1zM911,291h1v1h-1zM1506,291h1v1h-1zM910,292h1v1h-1zM1507,292h1v1h-1zM909,293h1v1h-1zM1508,293h1v1h-1zM908,294h1v1h-1zM1509,294h2v1h-2zM907,295h1v1h-1zM1511,295h1v1h-1zM906,296h1v1h-1zM1512,296h1v1h-1zM905,297h1v1h-1zM1513,297h2v1h-2zM904,298h1v1h-1zM1515,298h1v1h-1zM903,299h1v1h-1zM1516,299h1v1h-1zM903,300h1v1h-1zM1517,300h1v1h-1zM902,301h1v1h-1zM1518,301h1v1h-1zM901,302h1v1h-1zM1519,302h1v1h-1zM900,303h1v1h-1zM1520,303h1v1h-1zM899,304h1v1h-1zM1521,304h1v1h-1zM898,305h1v1h-1zM1522,305h1v1h-1zM897,306h1v1h-1zM1523,306h1v1h-1zM897,307h1v1h-1zM1524,307h1v1h-1zM896,308h1v1h-1zM1525,308h2v1h-2zM895,309h1v1h-1zM1527,309h1v1h-1zM894,310h1v1h-1zM1528,310h1v1h-1zM893,311h1v1h-1zM1529,311h2v1h-2zM893,312h1v1h-1zM1531,312h1v1h-1zM892,313h1v1h-1zM1532,313h2v1h-2zM891,314h1v1h-1zM1534,314h1v1h-1zM890,315h1v1h-1zM1535,315h2v1h-2zM889,316h1v1h-1zM1537,316h2v1h-2zM888,317h1v1h-1zM1539,317h1v1h-1zM887,318h1v1h-1zM1540,318h2v1h-2zM886,319h1v1h-1zM1542,319h1v1h-1zM885,320h1v1h-1zM1543,320h2v1h-2zM884,321h1v1h-1zM1545,321h2v1h-2zM883,322h1v1h-1zM1547,322h1v1h-1zM882,323h1v1h-1zM1548,323h1v1h-1zM881,324h1v1h-1zM1549,324h1v1h-1zM881,325h1v1h-1zM1550,325h1v1h-1zM880,326h1v1h-1zM1551,326h2v1h-2zM879,327h1v1h-1zM1553,327h1v1h-1zM878,328h1v1h-1zM1554,328h1v1h-1zM877,329h1v1h-1zM1555,329h1v1h-1zM877,330h1v1h-1zM1556,330h1v1h-1zM876,331h1v1h-1zM1557,331h2v1h-2zM875,332h1v1h-1zM1559,332h1v1h-1zM874,333h1v1h-1zM1560,333h1v1h-1zM873,334h1v1h-1zM1561,334h2v1h-2zM873,335h1v1h-1zM1563,335h1v1h-1zM872,336h1v1h-1zM1564,336h1v1h-1zM871,337h1v1h-1zM1565,337h2v1h-2zM870,338h1v1h-1zM1567,338h1v1h-1zM869,339h1v1h-1zM1568,339h1v1h-1zM869,340h1v1h-1zM1569,340h2v1h-2zM868,341h1v1h-1zM1571,341h1v1h-1zM867,342h1v1h-1zM1572,342h2v1h-2zM866,343h1v1h-1zM1574,343h2v1h-2zM865,344h1v1h-1zM1576,344h2v1h-2zM863,345h2v1h-2zM1578,345h2v1h-2zM862,346h1v1h-1zM1580,346h1v1h-1zM861,347h1v1h-1zM1581,347h2v1h-2zM860,348h1v1h-1zM1583,348h1v1h-1zM859,349h1v1h-1zM1584,349h1v1h-1zM857,350h2v1h-2zM1585,350h2v1h-2zM856,351h1v1h-1zM1587,351h1v1h-1zM855,352h1v1h-1zM1588,352h1v1h-1zM853,353h2v1h-2zM1589,353h1v1h-1zM852,354h1v1h-1zM1590,354h1v1h-1zM851,355h1v1h-1zM1591,355h2v1h-2zM849,356h2v1h-2zM1593,356h1v1h-1zM848,357h1v1h-1zM1594,357h1v1h-1zM847,358h1v1h-1zM1595,358h1v1h-1zM845,359h2v1h-2zM1596,359h2v1h-2zM844,360h1v1h-1zM1598,360h2v1h-2zM843,361h1v1h-1zM1600,361h2v1h-2zM841,362h2v1h-2zM1602,362h2v1h-2zM840,363h1v1h-1zM1604,363h2v1h-2zM839,364h1v1h-1zM1606,364h1v1h-1zM837,365h2v1h-2zM1607,365h2v1h-2zM836,366h1v1h-1zM1609,366h2v1h-2zM835,367h1v1h-1zM1611,367h1v1h-1zM833,368h2v1h-2zM1612,368h1v1h-1zM831,369h2v1h-2zM1613,369h2v1h-2zM830,370h1v1h-1zM1615,370h1v1h-1zM828,371h2v1h-2zM1616,371h1v1h-1zM827,372h1v1h-1zM1617,372h2v1h-2zM825,373h2v1h-2zM1619,373h1v1h-1zM823,374h2v1h-2zM1620,374h2v1h-2zM822,375h1v1h-1zM1622,375h1v1h-1zM820,376h2v1h-2zM1623,376h2v1h-2zM818,377h2v1h-2zM1625,377h2v1h-2zM816,378h2v1h-2zM1627,378h2v1h-2zM814,379h2v1h-2zM1629,379h4v1h-4zM812,380h2v1h-2zM1633,380h4v1h-4zM811,381h1v1h-1zM1637,381h2v1h-2zM809,382h2v1h-2zM1639,382h3v1h-3zM807,383h2v1h-2zM1642,383h3v1h-3zM806,384h1v1h-1zM1645,384h4v1h-4zM804,385h2v1h-2zM1649,385h12v1h-12zM802,386h2v1h-2zM1661,386h4v1h-4zM799,387h3v1h-3zM1665,387h2v1h-2zM797,388h2v1h-2zM794,389h3v1h-3zM791,390h3v1h-3zM789,391h2v1h-2zM786,392h3v1h-3zM575,393h8v1h-8zM783,393h3v1h-3zM567,394h8v1h-8zM583,394h14v1h-14zM781,394h2v1h-2zM551,395h16v1h-16zM597,395h4v1h-4zM777,395h4v1h-4zM535,396h16v1h-16zM601,396h4v1h-4zM773,396h4v1h-4zM527,397h8v1h-8zM605,397h4v1h-4zM770,397h3v1h-3zM519,398h8v1h-8zM609,398h6v1h-6zM767,398h3v1h-3zM514,399h5v1h-5zM615,399h8v1h-8zM765,399h2v1h-2zM511,400h3v1h-3zM623,400h6v1h-6zM762,400h3v1h-3zM509,401h2v1h-2zM629,401h2v1h-2zM760,401h2v1h-2zM505,402h4v1h-4zM631,402h3v1h-3zM758,402h2v1h-2zM501,403h4v1h-4zM634,403h3v1h-3zM756,403h2v1h-2zM498,404h3v1h-3zM637,404h4v1h-4zM754,404h2v1h-2zM495,405h3v1h-3zM641,405h4v1h-4zM751,405h3v1h-3zM493,406h2v1h-2zM645,406h4v1h-4zM749,406h2v1h-2zM490,407h3v1h-3zM649,407h14v1h-14zM745,407h4v1h-4zM488,408h2v1h-2zM663,408h8v1h-8zM741,408h4v1h-4zM486,409h2v1h-2zM671,409h8v1h-8zM687,409h16v1h-16zM727,409h14v1h-14zM484,410h2v1h-2zM679,410h8v1h-8zM703,410h24v1h-24zM482,411h2v1h-2zM479,412h3v1h-3zM477,413h2v1h-2zM474,414h3v1h-3zM471,415h3v1h-3zM469,416h2v1h-2zM466,417h3v1h-3zM464,418h2v1h-2zM462,419h2v1h-2zM460,420h2v1h-2zM457,421h3v1h-3zM453,422h4v1h-4zM449,423h4v1h-4zM445,424h4v1h-4zM442,425h3v1h-3zM439,426h3v1h-3zM437,427h2v1h-2zM434,428h3v1h-3zM431,429h3v1h-3zM429,430h2v1h-2zM361,431h46v1h-46zM415,431h14v1h-14zM357,432h4v1h-4zM407,432h8v1h-8zM353,433h4v1h-4zM349,434h4v1h-4zM343,435h6v1h-6zM335,436h8v1h-8zM329,437h6v1h-6zM325,438h4v1h-4zM321,439h4v1h-4zM317,440h4v1h-4zM314,441h3v1h-3zM311,442h3v1h-3zM309,443h2v1h-2zM305,444h4v1h-4zM301,445h4v1h-4zM298,446h3v1h-3zM296,447h2v1h-2zM294,448h2v1h-2zM292,449h2v1h-2zM290,450h2v1h-2zM287,451h3v1h-3zM285,452h2v1h-2zM282,453h3v1h-3zM280,454h2v1h-2zM278,455h2v1h-2zM276,456h2v1h-2zM273,457h3v1h-3zM269,458h4v1h-4zM265,459h4v1h-4zM261,460h4v1h-4zM258,461h3v1h-3zM255,462h3v1h-3zM253,463h2v1h-2zM250,464h3v1h-3zM247,465h3v1h-3zM245,466h2v1h-2zM242,467h3v1h-3zM240,468h2v1h-2zM238,469h2v1h-2zM236,470h2v1h-2zM235,471h1v1h-1zM233,472h2v1h-2zM231,473h2v1h-2zM230,474h1v1h-1zM228,475h2v1h-2zM227,476h1v1h-1zM225,477h2v1h-2zM224,478h1v1h-1zM223,479h1v1h-1zM221,480h2v1h-2zM220,481h1v1h-1zM219,482h1v1h-1zM217,483h2v1h-2zM215,484h2v1h-2zM214,485h1v1h-1zM212,486h2v1h-2zM211,487h1v1h-1zM209,488h2v1h-2zM208,489h1v1h-1zM207,490h1v1h-1zM205,491h2v1h-2zM31,492h14v1h-14zM204,492h1v1h-1zM26,493h5v1h-5zM45,493h4v1h-4zM203,493h1v1h-1zM24,494h2v1h-2zM49,494h4v1h-4zM201,494h2v1h-2zM22,495h2v1h-2zM53,495h2v1h-2zM200,495h1v1h-1zM20,496h2v1h-2zM55,496h3v1h-3zM199,496h1v1h-1zM17,497h3v1h-3zM58,497h3v1h-3zM197,497h2v1h-2zM13,498h4v1h-4zM61,498h2v1h-2zM196,498h1v1h-1zM10,499h3v1h-3zM63,499h3v1h-3zM193,499h3v1h-3zM7,500h3v1h-3zM66,500h3v1h-3zM189,500h4v1h-4zM5,501h2v1h-2zM69,501h4v1h-4zM183,501h6v1h-6zM3,502h2v1h-2zM73,502h4v1h-4zM178,502h5v1h-5zM77,503h4v1h-4zM175,503h3v1h-3zM81,504h6v1h-6zM173,504h2v1h-2zM87,505h16v1h-16zM169,505h4v1h-4zM103,506h8v1h-8zM165,506h4v1h-4zM111,507h8v1h-8zM159,507h6v1h-6zM119,508h8v1h-8zM151,508h8v1h-8zM127,509h24v1h-24z" fill="#FFA500"/></g><rect x="3" y="146" width="1686" height="2" fill="#FF0000"/><rect x="3" y="229" width="1686" height="2" fill="#FF0000"/><rect x="3" y="281" width="1686" height="2" fill="#FF0000"/><rect x="3" y="364" width="1686" height="2" fill="#32CD32"/><rect x="3" y="446" width="1686" height="2" fill="#4169E1"/><rect x="3" y="489" width="1686" height="2" fill="#4169E1"/><text x="1052.5" y="339" font-family="'Liberation Sans','Noto Sans CJK SC',sans-serif" font-size="37" fill="#EC1C24">多空转折点<tspan x="1236" font-size="39.5" textLength="81.5" lengthAdjust="spacingAndGlyphs">5080</tspan></text><path d="M3,618h1v11h-1zM11,620h1v9h-1zM19,620h1v9h-1zM27,620h1v9h-1zM35,622h1v7h-1zM43,625h1v4h-1zM51,628h1v1h-1zM59,628h1v1h-1zM67,628h1v2h-1zM75,628h1v2h-1zM83,628h1v1h-1zM99,628h1v1h-1zM107,626h1v3h-1zM115,628h1v1h-1zM139,628h1v1h-1zM147,628h1v1h-1zM155,625h1v4h-1zM163,623h1v6h-1zM171,620h1v9h-1zM179,617h1v12h-1zM187,616h1v13h-1zM195,614h1v15h-1zM203,608h1v21h-1zM211,605h1v24h-1zM219,603h1v26h-1zM227,602h1v27h-1zM235,602h1v27h-1zM243,604h1v25h-1zM251,605h1v24h-1zM259,607h1v22h-1zM267,610h1v19h-1zM275,613h1v16h-1zM283,614h1v15h-1zM291,614h1v15h-1zM299,615h1v14h-1zM307,616h1v13h-1zM315,616h1v13h-1zM323,617h1v12h-1zM331,618h1v11h-1zM339,617h1v12h-1zM347,618h1v11h-1zM355,617h1v12h-1zM363,616h1v13h-1zM371,614h1v15h-1zM379,613h1v16h-1zM387,613h1v16h-1zM395,614h1v15h-1zM403,616h1v13h-1zM411,619h1v10h-1zM419,620h1v9h-1zM427,621h1v8h-1zM435,619h1v10h-1zM443,617h1v12h-1zM451,617h1v12h-1zM459,615h1v14h-1zM467,613h1v16h-1zM475,611h1v18h-1zM483,610h1v19h-1zM491,609h1v20h-1zM499,609h1v20h-1zM507,610h1v19h-1zM515,610h1v19h-1zM523,612h1v17h-1zM531,613h1v16h-1zM539,615h1v14h-1zM547,616h1v13h-1zM555,618h1v11h-1zM563,621h1v8h-1zM571,623h1v6h-1zM579,626h1v3h-1zM587,628h1v3h-1zM595,628h1v6h-1zM603,628h1v7h-1zM611,628h1v7h-1zM619,628h1v8h-1zM627,628h1v8h-1zM635,628h1v8h-1zM643,628h1v7h-1zM651,628h1v5h-1zM659,628h1v2h-1zM667,628h1v1h-1zM675,627h1v2h-1zM683,625h1v4h-1zM691,624h1v5h-1zM699,622h1v7h-1zM707,624h1v5h-1zM715,623h1v6h-1zM723,624h1v5h-1zM731,624h1v5h-1zM739,624h1v5h-1zM747,623h1v6h-1zM755,622h1v7h-1zM763,621h1v8h-1zM771,620h1v9h-1zM779,620h1v9h-1zM787,620h1v9h-1zM795,618h1v11h-1zM803,616h1v13h-1zM811,613h1v16h-1zM819,609h1v20h-1zM827,604h1v25h-1zM835,602h1v27h-1zM843,599h1v30h-1zM851,594h1v35h-1zM859,591h1v38h-1zM867,588h1v41h-1zM875,583h1v46h-1zM883,578h1v51h-1zM891,578h1v51h-1zM899,576h1v53h-1zM907,576h1v53h-1zM915,578h1v51h-1zM923,579h1v50h-1zM931,576h1v53h-1zM939,575h1v54h-1zM947,575h1v54h-1zM955,578h1v51h-1zM963,582h1v47h-1zM971,587h1v42h-1zM979,591h1v38h-1zM987,593h1v36h-1zM995,594h1v35h-1zM1003,597h1v32h-1zM1011,601h1v28h-1zM1019,604h1v25h-1zM1027,606h1v23h-1zM1035,604h1v25h-1zM1043,603h1v26h-1zM1051,604h1v25h-1zM1059,605h1v24h-1zM1067,603h1v26h-1zM1075,603h1v26h-1zM1083,605h1v24h-1zM1091,608h1v21h-1zM1099,611h1v18h-1zM1107,613h1v16h-1zM1115,619h1v10h-1zM1123,623h1v6h-1zM1131,627h1v2h-1zM1139,628h1v4h-1zM1147,628h1v6h-1zM1155,628h1v7h-1zM1163,628h1v5h-1zM1171,628h1v4h-1zM1179,628h1v1h-1zM1187,628h1v1h-1zM1195,628h1v2h-1zM1203,628h1v1h-1zM1211,626h1v3h-1zM1219,626h1v3h-1zM1227,623h1v6h-1zM1235,621h1v8h-1zM1243,617h1v12h-1zM1251,612h1v17h-1zM1259,605h1v24h-1zM1267,599h1v30h-1zM1275,597h1v32h-1zM1283,596h1v33h-1zM1291,596h1v33h-1zM1299,595h1v34h-1zM1307,598h1v31h-1zM1315,603h1v26h-1zM1323,607h1v22h-1zM1331,611h1v18h-1zM1339,618h1v11h-1zM1347,625h1v4h-1zM1355,628h1v1h-1zM1363,628h1v5h-1zM1371,628h1v11h-1zM1379,628h1v17h-1zM1387,628h1v20h-1zM1395,628h1v22h-1zM1403,628h1v25h-1zM1411,628h1v27h-1zM1419,628h1v26h-1zM1427,628h1v24h-1zM1435,628h1v27h-1zM1443,628h1v30h-1zM1451,628h1v32h-1zM1459,628h1v33h-1zM1467,628h1v38h-1zM1475,628h1v44h-1zM1483,628h1v47h-1zM1491,628h1v53h-1zM1499,628h1v55h-1zM1507,628h1v57h-1zM1515,628h1v55h-1zM1523,628h1v51h-1zM1531,628h1v48h-1zM1539,628h1v45h-1zM1547,628h1v45h-1zM1555,628h1v45h-1zM1563,628h1v43h-1zM1571,628h1v41h-1zM1579,628h1v39h-1zM1587,628h1v37h-1zM1595,628h1v34h-1zM1603,628h1v32h-1zM1611,628h1v33h-1zM1619,628h1v35h-1zM1627,628h1v34h-1zM1635,628h1v33h-1zM1643,628h1v34h-1zM1651,628h1v33h-1zM1659,628h1v34h-1zM1667,628h1v34h-1z" fill="#C0C0C0"/><path d="M945,576h3v1h-3zM951,576h3v1h-3zM957,576h2v1h-2zM939,577h3v1h-3zM959,577h1v1h-1zM963,577h3v1h-3zM933,578h3v1h-3zM969,578h3v1h-3zM927,579h3v1h-3zM975,579h3v1h-3zM921,580h3v1h-3zM981,580h3v1h-3zM917,581h1v1h-1zM987,581h2v1h-2zM915,582h2v1h-2zM989,582h1v1h-1zM909,583h3v1h-3zM993,583h3v1h-3zM999,584h2v1h-2zM903,585h3v1h-3zM1001,585h1v1h-1zM1005,586h2v1h-2zM898,587h2v1h-2zM1007,587h1v1h-1zM897,588h1v1h-1zM1011,588h2v1h-2zM893,589h1v1h-1zM1013,589h1v1h-1zM891,590h2v1h-2zM1017,590h1v1h-1zM1018,591h2v1h-2zM886,592h2v1h-2zM885,593h1v1h-1zM1023,593h3v1h-3zM880,595h2v1h-2zM1029,595h2v1h-2zM879,596h1v1h-1zM1031,596h1v1h-1zM1035,597h2v1h-2zM874,598h2v1h-2zM1037,598h1v1h-1zM873,599h1v1h-1zM1041,599h3v1h-3zM1319,599h1v1h-1zM1323,599h3v1h-3zM869,600h1v1h-1zM1047,600h3v1h-3zM1053,600h2v1h-2zM1311,600h3v1h-3zM1317,600h2v1h-2zM1329,600h3v1h-3zM867,601h2v1h-2zM1055,601h1v1h-1zM1059,601h3v1h-3zM1306,601h2v1h-2zM1335,601h2v1h-2zM1065,602h3v1h-3zM1305,602h1v1h-1zM1337,602h1v1h-1zM862,603h2v1h-2zM1071,603h3v1h-3zM1077,603h2v1h-2zM1301,603h1v1h-1zM1341,603h2v1h-2zM861,604h1v1h-1zM1079,604h1v1h-1zM1083,604h3v1h-3zM1089,604h3v1h-3zM1299,604h2v1h-2zM1343,604h1v1h-1zM255,605h3v1h-3zM261,605h3v1h-3zM267,605h3v1h-3zM273,605h3v1h-3zM1095,605h3v1h-3zM1101,605h2v1h-2zM1295,605h1v1h-1zM1347,605h1v1h-1zM249,606h3v1h-3zM279,606h3v1h-3zM285,606h2v1h-2zM855,606h3v1h-3zM1103,606h1v1h-1zM1107,606h3v1h-3zM1293,606h2v1h-2zM1348,606h2v1h-2zM243,607h3v1h-3zM287,607h1v1h-1zM291,607h2v1h-2zM1113,607h3v1h-3zM237,608h3v1h-3zM293,608h1v1h-1zM850,608h2v1h-2zM1119,608h2v1h-2zM1287,608h3v1h-3zM1353,608h1v1h-1zM297,609h3v1h-3zM849,609h1v1h-1zM1121,609h1v1h-1zM1354,609h2v1h-2zM231,610h3v1h-3zM303,610h3v1h-3zM519,610h3v1h-3zM525,610h3v1h-3zM531,610h3v1h-3zM537,610h3v1h-3zM845,610h1v1h-1zM1125,610h2v1h-2zM1282,610h2v1h-2zM309,611h3v1h-3zM513,611h3v1h-3zM543,611h3v1h-3zM549,611h2v1h-2zM843,611h2v1h-2zM1127,611h1v1h-1zM1281,611h1v1h-1zM1359,611h1v1h-1zM225,612h3v1h-3zM315,612h3v1h-3zM503,612h1v1h-1zM507,612h3v1h-3zM551,612h1v1h-1zM555,612h3v1h-3zM837,612h3v1h-3zM1131,612h2v1h-2zM1277,612h1v1h-1zM1360,612h2v1h-2zM3,613h3v1h-3zM221,613h1v1h-1zM321,613h3v1h-3zM495,613h3v1h-3zM501,613h2v1h-2zM561,613h3v1h-3zM833,613h1v1h-1zM1133,613h1v1h-1zM1275,613h2v1h-2zM9,614h3v1h-3zM219,614h2v1h-2zM327,614h3v1h-3zM333,614h2v1h-2zM489,614h3v1h-3zM567,614h2v1h-2zM831,614h2v1h-2zM1137,614h1v1h-1zM1365,614h1v1h-1zM15,615h3v1h-3zM21,615h2v1h-2zM215,615h1v1h-1zM335,615h1v1h-1zM339,615h3v1h-3zM383,615h1v1h-1zM387,615h3v1h-3zM393,615h3v1h-3zM399,615h3v1h-3zM405,615h3v1h-3zM411,615h3v1h-3zM417,615h3v1h-3zM479,615h1v1h-1zM483,615h3v1h-3zM569,615h1v1h-1zM825,615h3v1h-3zM1138,615h2v1h-2zM1270,615h2v1h-2zM1366,615h2v1h-2zM23,616h1v1h-1zM27,616h3v1h-3zM213,616h2v1h-2zM345,616h3v1h-3zM351,616h3v1h-3zM357,616h3v1h-3zM363,616h3v1h-3zM369,616h3v1h-3zM375,616h3v1h-3zM381,616h2v1h-2zM423,616h3v1h-3zM429,616h3v1h-3zM435,616h3v1h-3zM441,616h3v1h-3zM471,616h3v1h-3zM477,616h2v1h-2zM573,616h3v1h-3zM821,616h1v1h-1zM1269,616h1v1h-1zM33,617h3v1h-3zM209,617h1v1h-1zM447,617h3v1h-3zM453,617h3v1h-3zM459,617h3v1h-3zM465,617h3v1h-3zM579,617h2v1h-2zM819,617h2v1h-2zM1143,617h3v1h-3zM1371,617h1v1h-1zM39,618h3v1h-3zM207,618h2v1h-2zM581,618h1v1h-1zM813,618h3v1h-3zM1263,618h3v1h-3zM1372,618h1v1h-1zM45,619h3v1h-3zM202,619h2v1h-2zM585,619h3v1h-3zM807,619h3v1h-3zM1149,619h2v1h-2zM1373,619h1v1h-1zM51,620h3v1h-3zM201,620h1v1h-1zM591,620h2v1h-2zM801,620h3v1h-3zM1151,620h1v1h-1zM1258,620h2v1h-2zM57,621h3v1h-3zM197,621h1v1h-1zM593,621h1v1h-1zM783,621h3v1h-3zM789,621h3v1h-3zM795,621h3v1h-3zM1155,621h2v1h-2zM1257,621h1v1h-1zM63,622h2v1h-2zM191,622h1v1h-1zM195,622h2v1h-2zM597,622h3v1h-3zM767,622h1v1h-1zM771,622h3v1h-3zM777,622h3v1h-3zM1157,622h1v1h-1zM1253,622h1v1h-1zM1377,622h2v1h-2zM65,623h1v1h-1zM69,623h2v1h-2zM185,623h1v1h-1zM189,623h2v1h-2zM603,623h2v1h-2zM743,623h1v1h-1zM747,623h3v1h-3zM753,623h3v1h-3zM759,623h3v1h-3zM765,623h2v1h-2zM1161,623h1v1h-1zM1247,623h1v1h-1zM1251,623h2v1h-2zM1379,623h1v1h-1zM71,624h1v1h-1zM75,624h3v1h-3zM183,624h2v1h-2zM605,624h1v1h-1zM729,624h3v1h-3zM735,624h3v1h-3zM741,624h2v1h-2zM1162,624h2v1h-2zM1241,624h1v1h-1zM1245,624h2v1h-2zM81,625h3v1h-3zM177,625h3v1h-3zM609,625h1v1h-1zM713,625h1v1h-1zM717,625h3v1h-3zM723,625h3v1h-3zM1167,625h2v1h-2zM1239,625h2v1h-2zM87,626h3v1h-3zM93,626h2v1h-2zM159,626h3v1h-3zM165,626h3v1h-3zM171,626h3v1h-3zM610,626h2v1h-2zM711,626h2v1h-2zM1169,626h1v1h-1zM1233,626h3v1h-3zM1383,626h2v1h-2zM95,627h1v1h-1zM99,627h3v1h-3zM105,627h3v1h-3zM143,627h1v1h-1zM147,627h3v1h-3zM153,627h3v1h-3zM615,627h2v1h-2zM705,627h3v1h-3zM1173,627h3v1h-3zM1223,627h1v1h-1zM1227,627h3v1h-3zM1385,627h1v1h-1zM111,628h3v1h-3zM117,628h3v1h-3zM123,628h3v1h-3zM129,628h3v1h-3zM135,628h3v1h-3zM141,628h2v1h-2zM617,628h1v1h-1zM695,628h1v1h-1zM699,628h3v1h-3zM1179,628h3v1h-3zM1215,628h3v1h-3zM1221,628h2v1h-2zM621,629h3v1h-3zM689,629h1v1h-1zM693,629h2v1h-2zM1185,629h3v1h-3zM1209,629h3v1h-3zM1389,629h1v1h-1zM627,630h3v1h-3zM687,630h2v1h-2zM1191,630h3v1h-3zM1197,630h3v1h-3zM1203,630h3v1h-3zM1390,630h2v1h-2zM633,631h3v1h-3zM681,631h3v1h-3zM639,632h3v1h-3zM645,632h2v1h-2zM663,632h3v1h-3zM669,632h3v1h-3zM675,632h3v1h-3zM1395,632h1v1h-1zM647,633h1v1h-1zM651,633h3v1h-3zM657,633h3v1h-3zM1396,633h2v1h-2zM1401,636h2v1h-2zM1403,637h1v1h-1zM1407,639h1v1h-1zM1408,640h2v1h-2zM1413,642h2v1h-2zM1415,643h1v1h-1zM1419,644h2v1h-2zM1421,645h1v1h-1zM1425,646h3v1h-3zM1431,648h3v1h-3zM1437,650h3v1h-3zM1443,651h3v1h-3zM1449,652h3v1h-3zM1455,653h2v1h-2zM1457,654h1v1h-1zM1461,655h3v1h-3zM1467,656h2v1h-2zM1469,657h1v1h-1zM1473,658h3v1h-3zM1479,659h2v1h-2zM1481,660h1v1h-1zM1647,660h3v1h-3zM1653,660h3v1h-3zM1659,660h3v1h-3zM1665,660h2v1h-2zM1485,661h2v1h-2zM1641,661h3v1h-3zM1487,662h1v1h-1zM1631,662h1v1h-1zM1635,662h3v1h-3zM1491,663h2v1h-2zM1623,663h3v1h-3zM1629,663h2v1h-2zM1493,664h1v1h-1zM1617,664h3v1h-3zM1497,665h1v1h-1zM1611,665h3v1h-3zM1498,666h2v1h-2zM1605,666h3v1h-3zM1599,667h3v1h-3zM1503,668h1v1h-1zM1593,668h3v1h-3zM1504,669h2v1h-2zM1589,669h1v1h-1zM1587,670h2v1h-2zM1509,671h3v1h-3zM1581,671h3v1h-3zM1515,672h2v1h-2zM1577,672h1v1h-1zM1517,673h1v1h-1zM1575,673h2v1h-2zM1521,674h1v1h-1zM1569,674h3v1h-3zM1522,675h2v1h-2zM1565,675h1v1h-1zM1527,676h3v1h-3zM1533,676h2v1h-2zM1559,676h1v1h-1zM1563,676h2v1h-2zM1535,677h1v1h-1zM1539,677h3v1h-3zM1545,677h3v1h-3zM1551,677h3v1h-3zM1557,677h2v1h-2z" fill="#FF0000"/><path d="M4,731h3v1h-3zM10,731h3v1h-3zM16,731h3v1h-3zM22,731h3v1h-3zM28,731h3v1h-3zM34,731h3v1h-3zM40,731h3v1h-3zM46,731h3v1h-3zM52,731h3v1h-3zM58,731h3v1h-3zM64,731h3v1h-3zM70,731h3v1h-3zM76,731h3v1h-3zM82,731h3v1h-3zM88,731h3v1h-3zM94,731h3v1h-3zM100,731h3v1h-3zM106,731h3v1h-3zM112,731h3v1h-3zM118,731h3v1h-3zM124,731h3v1h-3zM130,731h3v1h-3zM136,731h3v1h-3zM142,731h3v1h-3zM148,731h3v1h-3zM154,731h3v1h-3zM160,731h3v1h-3zM166,731h3v1h-3zM172,731h3v1h-3zM178,731h3v1h-3zM184,731h3v1h-3zM190,731h3v1h-3zM196,731h3v1h-3zM202,731h3v1h-3zM208,731h3v1h-3zM214,731h3v1h-3zM220,731h3v1h-3zM226,731h3v1h-3zM232,731h3v1h-3zM238,731h3v1h-3zM244,731h3v1h-3zM250,731h3v1h-3zM256,731h3v1h-3zM262,731h3v1h-3zM268,731h3v1h-3zM274,731h3v1h-3zM280,731h3v1h-3zM286,731h3v1h-3zM292,731h3v1h-3zM298,731h3v1h-3zM304,731h3v1h-3zM310,731h3v1h-3zM316,731h3v1h-3zM322,731h3v1h-3zM328,731h3v1h-3zM334,731h3v1h-3zM340,731h3v1h-3zM346,731h3v1h-3zM352,731h3v1h-3zM358,731h3v1h-3zM364,731h3v1h-3zM370,731h3v1h-3zM376,731h3v1h-3zM382,731h3v1h-3zM388,731h3v1h-3zM394,731h3v1h-3zM400,731h3v1h-3zM406,731h3v1h-3zM412,731h3v1h-3zM418,731h3v1h-3zM424,731h3v1h-3zM430,731h3v1h-3zM436,731h3v1h-3zM442,731h3v1h-3zM448,731h3v1h-3zM454,731h3v1h-3zM460,731h3v1h-3zM466,731h3v1h-3zM472,731h3v1h-3zM478,731h3v1h-3zM484,731h3v1h-3zM490,731h3v1h-3zM496,731h3v1h-3zM502,731h3v1h-3zM508,731h3v1h-3zM514,731h3v1h-3zM520,731h3v1h-3zM526,731h3v1h-3zM532,731h3v1h-3zM538,731h3v1h-3zM544,731h3v1h-3zM550,731h3v1h-3zM556,731h3v1h-3zM562,731h3v1h-3zM568,731h3v1h-3zM574,731h3v1h-3zM580,731h3v1h-3zM586,731h3v1h-3zM592,731h3v1h-3zM598,731h3v1h-3zM604,731h3v1h-3zM610,731h3v1h-3zM616,731h3v1h-3zM622,731h3v1h-3zM628,731h3v1h-3zM634,731h3v1h-3zM640,731h3v1h-3zM646,731h3v1h-3zM652,731h3v1h-3zM658,731h3v1h-3zM664,731h3v1h-3zM670,731h3v1h-3zM676,731h3v1h-3zM682,731h3v1h-3zM688,731h3v1h-3zM694,731h3v1h-3zM700,731h3v1h-3zM706,731h3v1h-3zM712,731h3v1h-3zM718,731h3v1h-3zM724,731h3v1h-3zM730,731h3v1h-3zM736,731h3v1h-3zM742,731h3v1h-3zM748,731h3v1h-3zM754,731h3v1h-3zM760,731h3v1h-3zM766,731h3v1h-3zM772,731h3v1h-3zM778,731h3v1h-3zM784,731h3v1h-3zM790,731h3v1h-3zM796,731h3v1h-3zM802,731h3v1h-3zM808,731h3v1h-3zM814,731h3v1h-3zM820,731h3v1h-3zM826,731h3v1h-3zM832,731h3v1h-3zM838,731h3v1h-3zM844,731h3v1h-3zM850,731h3v1h-3zM856,731h3v1h-3zM862,731h3v1h-3zM868,731h3v1h-3zM874,731h3v1h-3zM880,731h3v1h-3zM886,731h3v1h-3zM892,731h3v1h-3zM898,731h3v1h-3zM904,731h3v1h-3zM910,731h3v1h-3zM916,731h3v1h-3zM922,731h3v1h-3zM928,731h3v1h-3zM934,731h3v1h-3zM940,731h3v1h-3zM946,731h3v1h-3zM952,731h3v1h-3zM958,731h3v1h-3zM964,731h3v1h-3zM970,731h3v1h-3zM976,731h3v1h-3zM982,731h3v1h-3zM988,731h3v1h-3zM994,731h3v1h-3zM1000,731h3v1h-3zM1006,731h3v1h-3zM1012,731h3v1h-3zM1018,731h3v1h-3zM1024,731h3v1h-3zM1030,731h3v1h-3zM1036,731h3v1h-3zM1042,731h3v1h-3zM1048,731h3v1h-3zM1054,731h3v1h-3zM1060,731h3v1h-3zM1066,731h3v1h-3zM1072,731h3v1h-3zM1078,731h3v1h-3zM1084,731h3v1h-3zM1090,731h3v1h-3zM1096,731h3v1h-3zM1102,731h3v1h-3zM1108,731h3v1h-3zM1114,731h3v1h-3zM1120,731h3v1h-3zM1126,731h3v1h-3zM1132,731h3v1h-3zM1138,731h3v1h-3zM1144,731h3v1h-3zM1150,731h3v1h-3zM1156,731h3v1h-3zM1162,731h3v1h-3zM1168,731h3v1h-3zM1174,731h3v1h-3zM1180,731h3v1h-3zM1186,731h3v1h-3zM1192,731h3v1h-3zM1198,731h3v1h-3zM1204,731h3v1h-3zM1210,731h3v1h-3zM1216,731h3v1h-3zM1222,731h3v1h-3zM1228,731h3v1h-3zM1234,731h3v1h-3zM1240,731h3v1h-3zM1246,731h3v1h-3zM1252,731h3v1h-3zM1258,731h3v1h-3zM1264,731h3v1h-3zM1270,731h3v1h-3zM1276,731h3v1h-3zM1282,731h3v1h-3zM1288,731h3v1h-3zM1294,731h3v1h-3zM1300,731h3v1h-3zM1306,731h3v1h-3zM1312,731h3v1h-3zM1318,731h3v1h-3zM1324,731h3v1h-3zM1330,731h3v1h-3zM1336,731h3v1h-3zM1342,731h3v1h-3zM1348,731h3v1h-3zM1354,731h3v1h-3zM1360,731h3v1h-3zM1366,731h3v1h-3zM1372,731h3v1h-3zM1378,731h3v1h-3zM1384,731h3v1h-3zM1390,731h3v1h-3zM1396,731h3v1h-3zM1402,731h3v1h-3zM1408,731h3v1h-3zM1414,731h3v1h-3zM1420,731h3v1h-3zM1426,731h3v1h-3zM1432,731h3v1h-3zM1438,731h3v1h-3zM1444,731h3v1h-3zM1450,731h3v1h-3zM1456,731h3v1h-3zM1462,731h3v1h-3zM1468,731h3v1h-3zM1474,731h3v1h-3zM1480,731h3v1h-3zM1486,731h3v1h-3zM1492,731h3v1h-3zM1498,731h3v1h-3zM1504,731h3v1h-3zM1510,731h3v1h-3zM1516,731h3v1h-3zM1522,731h3v1h-3zM1528,731h3v1h-3zM1534,731h3v1h-3zM1540,731h3v1h-3zM1546,731h3v1h-3zM1552,731h3v1h-3zM1558,731h3v1h-3zM1564,731h3v1h-3zM1570,731h3v1h-3zM1576,731h3v1h-3zM1582,731h3v1h-3zM1588,731h3v1h-3zM1594,731h3v1h-3zM1600,731h3v1h-3zM1606,731h3v1h-3zM1612,731h3v1h-3zM1618,731h3v1h-3zM1624,731h3v1h-3zM1630,731h3v1h-3zM1636,731h3v1h-3zM1642,731h3v1h-3zM1648,731h3v1h-3zM1654,731h3v1h-3zM1660,731h3v1h-3zM1666,731h3v1h-3zM1672,731h3v1h-3zM1678,731h3v1h-3zM1684,731h3v1h-3z" fill="#C0C0C0"/><path d="M4,781h3v1h-3zM10,781h3v1h-3zM16,781h3v1h-3zM22,781h3v1h-3zM28,781h3v1h-3zM34,781h3v1h-3zM40,781h3v1h-3zM46,781h3v1h-3zM52,781h3v1h-3zM58,781h3v1h-3zM64,781h3v1h-3zM70,781h3v1h-3zM76,781h3v1h-3zM82,781h3v1h-3zM88,781h3v1h-3zM94,781h3v1h-3zM100,781h3v1h-3zM106,781h3v1h-3zM112,781h3v1h-3zM118,781h3v1h-3zM124,781h3v1h-3zM130,781h3v1h-3zM136,781h3v1h-3zM142,781h3v1h-3zM148,781h3v1h-3zM154,781h3v1h-3zM160,781h3v1h-3zM166,781h3v1h-3zM172,781h3v1h-3zM178,781h3v1h-3zM184,781h3v1h-3zM190,781h3v1h-3zM196,781h3v1h-3zM202,781h3v1h-3zM208,781h3v1h-3zM214,781h3v1h-3zM220,781h3v1h-3zM226,781h3v1h-3zM232,781h3v1h-3zM238,781h3v1h-3zM244,781h3v1h-3zM250,781h3v1h-3zM256,781h3v1h-3zM262,781h3v1h-3zM268,781h3v1h-3zM274,781h3v1h-3zM280,781h3v1h-3zM286,781h3v1h-3zM292,781h3v1h-3zM298,781h3v1h-3zM304,781h3v1h-3zM310,781h3v1h-3zM316,781h3v1h-3zM322,781h3v1h-3zM328,781h3v1h-3zM334,781h3v1h-3zM340,781h3v1h-3zM346,781h3v1h-3zM352,781h3v1h-3zM358,781h3v1h-3zM364,781h3v1h-3zM370,781h3v1h-3zM376,781h3v1h-3zM382,781h3v1h-3zM388,781h3v1h-3zM394,781h3v1h-3zM400,781h3v1h-3zM406,781h3v1h-3zM412,781h3v1h-3zM418,781h3v1h-3zM424,781h3v1h-3zM430,781h3v1h-3zM436,781h3v1h-3zM442,781h3v1h-3zM448,781h3v1h-3zM454,781h3v1h-3zM460,781h3v1h-3zM466,781h3v1h-3zM472,781h3v1h-3zM478,781h3v1h-3zM484,781h3v1h-3zM490,781h3v1h-3zM496,781h3v1h-3zM502,781h3v1h-3zM508,781h3v1h-3zM514,781h3v1h-3zM520,781h3v1h-3zM526,781h3v1h-3zM532,781h3v1h-3zM538,781h3v1h-3zM544,781h3v1h-3zM550,781h3v1h-3zM556,781h3v1h-3zM562,781h3v1h-3zM568,781h3v1h-3zM574,781h3v1h-3zM580,781h3v1h-3zM586,781h3v1h-3zM592,781h3v1h-3zM598,781h3v1h-3zM604,781h3v1h-3zM610,781h3v1h-3zM616,781h3v1h-3zM622,781h3v1h-3zM628,781h3v1h-3zM634,781h3v1h-3zM640,781h3v1h-3zM646,781h3v1h-3zM652,781h3v1h-3zM658,781h3v1h-3zM664,781h3v1h-3zM670,781h3v1h-3zM676,781h3v1h-3zM682,781h3v1h-3zM688,781h3v1h-3zM694,781h3v1h-3zM700,781h3v1h-3zM706,781h3v1h-3zM712,781h3v1h-3zM718,781h3v1h-3zM724,781h3v1h-3zM730,781h3v1h-3zM736,781h3v1h-3zM742,781h3v1h-3zM748,781h3v1h-3zM754,781h3v1h-3zM760,781h3v1h-3zM766,781h3v1h-3zM772,781h3v1h-3zM778,781h3v1h-3zM784,781h3v1h-3zM790,781h3v1h-3zM796,781h3v1h-3zM802,781h3v1h-3zM808,781h3v1h-3zM814,781h3v1h-3zM820,781h3v1h-3zM826,781h3v1h-3zM832,781h3v1h-3zM838,781h3v1h-3zM844,781h3v1h-3zM850,781h3v1h-3zM856,781h3v1h-3zM862,781h3v1h-3zM868,781h3v1h-3zM874,781h3v1h-3zM880,781h3v1h-3zM886,781h3v1h-3zM892,781h3v1h-3zM898,781h3v1h-3zM904,781h3v1h-3zM910,781h3v1h-3zM916,781h3v1h-3zM922,781h3v1h-3zM928,781h3v1h-3zM934,781h3v1h-3zM940,781h3v1h-3zM946,781h3v1h-3zM952,781h3v1h-3zM958,781h3v1h-3zM964,781h3v1h-3zM970,781h3v1h-3zM976,781h3v1h-3zM982,781h3v1h-3zM988,781h3v1h-3zM994,781h3v1h-3zM1000,781h3v1h-3zM1006,781h3v1h-3zM1012,781h3v1h-3zM1018,781h3v1h-3zM1024,781h3v1h-3zM1030,781h3v1h-3zM1036,781h3v1h-3zM1042,781h3v1h-3zM1048,781h3v1h-3zM1054,781h3v1h-3zM1060,781h3v1h-3zM1066,781h3v1h-3zM1072,781h3v1h-3zM1078,781h3v1h-3zM1084,781h3v1h-3zM1090,781h3v1h-3zM1096,781h3v1h-3zM1102,781h3v1h-3zM1108,781h3v1h-3zM1114,781h3v1h-3zM1120,781h3v1h-3zM1126,781h3v1h-3zM1132,781h3v1h-3zM1138,781h3v1h-3zM1144,781h3v1h-3zM1150,781h3v1h-3zM1156,781h3v1h-3zM1162,781h3v1h-3zM1168,781h3v1h-3zM1174,781h3v1h-3zM1180,781h3v1h-3zM1186,781h3v1h-3zM1192,781h3v1h-3zM1198,781h3v1h-3zM1204,781h3v1h-3zM1210,781h3v1h-3zM1216,781h3v1h-3zM1222,781h3v1h-3zM1228,781h3v1h-3zM1234,781h3v1h-3zM1240,781h3v1h-3zM1246,781h3v1h-3zM1252,781h3v1h-3zM1258,781h3v1h-3zM1264,781h3v1h-3zM1270,781h3v1h-3zM1276,781h3v1h-3zM1282,781h3v1h-3zM1288,781h3v1h-3zM1294,781h3v1h-3zM1300,781h3v1h-3zM1306,781h3v1h-3zM1312,781h3v1h-3zM1318,781h3v1h-3zM1324,781h3v1h-3zM1330,781h3v1h-3zM1336,781h3v1h-3zM1342,781h3v1h-3zM1348,781h3v1h-3zM1354,781h3v1h-3zM1360,781h3v1h-3zM1366,781h3v1h-3zM1372,781h3v1h-3zM1378,781h3v1h-3zM1384,781h3v1h-3zM1390,781h3v1h-3zM1396,781h3v1h-3zM1402,781h3v1h-3zM1408,781h3v1h-3zM1414,781h3v1h-3zM1420,781h3v1h-3zM1426,781h3v1h-3zM1432,781h3v1h-3zM1438,781h3v1h-3zM1444,781h3v1h-3zM1450,781h3v1h-3zM1456,781h3v1h-3zM1462,781h3v1h-3zM1468,781h3v1h-3zM1474,781h3v1h-3zM1480,781h3v1h-3zM1486,781h3v1h-3zM1492,781h3v1h-3zM1498,781h3v1h-3zM1504,781h3v1h-3zM1510,781h3v1h-3zM1516,781h3v1h-3zM1522,781h3v1h-3zM1528,781h3v1h-3zM1534,781h3v1h-3zM1540,781h3v1h-3zM1546,781h3v1h-3zM1552,781h3v1h-3zM1558,781h3v1h-3zM1564,781h3v1h-3zM1570,781h3v1h-3zM1576,781h3v1h-3zM1582,781h3v1h-3zM1588,781h3v1h-3zM1594,781h3v1h-3zM1600,781h3v1h-3zM1606,781h3v1h-3zM1612,781h3v1h-3zM1618,781h3v1h-3zM1624,781h3v1h-3zM1630,781h3v1h-3zM1636,781h3v1h-3zM1642,781h3v1h-3zM1648,781h3v1h-3zM1654,781h3v1h-3zM1660,781h3v1h-3zM1666,781h3v1h-3zM1672,781h3v1h-3zM1678,781h3v1h-3zM1684,781h3v1h-3z" fill="#C0C0C0"/><path d="M881,711h3v1h-3zM877,712h4v1h-4zM884,712h1v1h-1zM874,713h3v1h-3zM884,713h1v1h-1zM871,714h3v1h-3zM885,714h1v1h-1zM869,715h2v1h-2zM885,715h1v1h-1zM866,716h3v1h-3zM886,716h1v1h-1zM863,717h3v1h-3zM886,717h1v1h-1zM861,718h2v1h-2zM887,718h1v1h-1zM850,719h11v1h-11zM887,719h1v1h-1zM826,720h2v1h-2zM848,720h2v1h-2zM888,720h1v1h-1zM824,721h2v1h-2zM828,721h1v1h-1zM846,721h2v1h-2zM888,721h1v1h-1zM822,722h2v1h-2zM829,722h2v1h-2zM844,722h2v1h-2zM889,722h1v1h-1zM820,723h2v1h-2zM831,723h1v1h-1zM842,723h2v1h-2zM889,723h1v1h-1zM898,723h2v1h-2zM819,724h1v1h-1zM832,724h1v1h-1zM839,724h3v1h-3zM890,724h1v1h-1zM895,724h3v1h-3zM900,724h2v1h-2zM931,724h4v1h-4zM817,725h2v1h-2zM833,725h2v1h-2zM837,725h2v1h-2zM890,725h1v1h-1zM893,725h2v1h-2zM902,725h2v1h-2zM929,725h2v1h-2zM935,725h6v1h-6zM203,726h1v1h-1zM816,726h1v1h-1zM835,726h2v1h-2zM891,726h2v1h-2zM904,726h2v1h-2zM928,726h1v1h-1zM941,726h4v1h-4zM202,727h1v1h-1zM204,727h1v1h-1zM815,727h1v1h-1zM906,727h2v1h-2zM927,727h1v1h-1zM945,727h3v1h-3zM202,728h1v1h-1zM205,728h2v1h-2zM813,728h2v1h-2zM908,728h1v1h-1zM925,728h2v1h-2zM948,728h1v1h-1zM1263,728h5v1h-5zM201,729h1v1h-1zM207,729h1v1h-1zM812,729h1v1h-1zM909,729h1v1h-1zM924,729h1v1h-1zM949,729h1v1h-1zM1259,729h4v1h-4zM1268,729h1v1h-1zM200,730h1v1h-1zM208,730h1v1h-1zM811,730h1v1h-1zM910,730h1v1h-1zM923,730h1v1h-1zM949,730h1v1h-1zM1258,730h1v1h-1zM1269,730h1v1h-1zM199,731h1v1h-1zM209,731h2v1h-2zM809,731h2v1h-2zM911,731h1v1h-1zM921,731h2v1h-2zM950,731h1v1h-1zM1257,731h1v1h-1zM1269,731h1v1h-1zM199,732h1v1h-1zM211,732h9v1h-9zM808,732h1v1h-1zM912,732h1v1h-1zM919,732h2v1h-2zM951,732h1v1h-1zM1255,732h2v1h-2zM1270,732h1v1h-1zM178,733h2v1h-2zM198,733h1v1h-1zM220,733h2v1h-2zM807,733h1v1h-1zM913,733h1v1h-1zM918,733h1v1h-1zM952,733h1v1h-1zM1254,733h1v1h-1zM1271,733h1v1h-1zM175,734h3v1h-3zM180,734h1v1h-1zM197,734h1v1h-1zM222,734h2v1h-2zM443,734h1v1h-1zM805,734h2v1h-2zM914,734h1v1h-1zM916,734h2v1h-2zM953,734h1v1h-1zM1253,734h1v1h-1zM1272,734h1v1h-1zM173,735h2v1h-2zM181,735h1v1h-1zM196,735h1v1h-1zM224,735h2v1h-2zM369,735h4v1h-4zM442,735h1v1h-1zM444,735h1v1h-1zM804,735h1v1h-1zM915,735h1v1h-1zM953,735h1v1h-1zM1252,735h1v1h-1zM1273,735h1v1h-1zM171,736h2v1h-2zM182,736h1v1h-1zM196,736h1v1h-1zM226,736h10v1h-10zM365,736h4v1h-4zM373,736h2v1h-2zM441,736h1v1h-1zM444,736h1v1h-1zM799,736h5v1h-5zM954,736h1v1h-1zM1250,736h2v1h-2zM1273,736h1v1h-1zM170,737h1v1h-1zM183,737h1v1h-1zM195,737h1v1h-1zM236,737h1v1h-1zM363,737h2v1h-2zM375,737h3v1h-3zM439,737h2v1h-2zM445,737h1v1h-1zM466,737h11v1h-11zM795,737h4v1h-4zM955,737h1v1h-1zM1247,737h3v1h-3zM1274,737h1v1h-1zM1279,737h5v1h-5zM169,738h1v1h-1zM183,738h1v1h-1zM193,738h2v1h-2zM237,738h1v1h-1zM361,738h2v1h-2zM378,738h3v1h-3zM438,738h1v1h-1zM445,738h1v1h-1zM463,738h3v1h-3zM477,738h4v1h-4zM794,738h1v1h-1zM956,738h1v1h-1zM1035,738h2v1h-2zM1067,738h2v1h-2zM1245,738h2v1h-2zM1275,738h4v1h-4zM1284,738h2v1h-2zM1298,738h2v1h-2zM167,739h2v1h-2zM184,739h1v1h-1zM191,739h2v1h-2zM238,739h1v1h-1zM360,739h1v1h-1zM381,739h2v1h-2zM437,739h1v1h-1zM446,739h1v1h-1zM461,739h2v1h-2zM481,739h19v1h-19zM793,739h1v1h-1zM957,739h2v1h-2zM1034,739h1v1h-1zM1037,739h2v1h-2zM1065,739h2v1h-2zM1069,739h4v1h-4zM1243,739h2v1h-2zM1286,739h2v1h-2zM1295,739h3v1h-3zM1300,739h1v1h-1zM166,740h1v1h-1zM185,740h1v1h-1zM190,740h1v1h-1zM239,740h1v1h-1zM359,740h1v1h-1zM383,740h3v1h-3zM436,740h1v1h-1zM446,740h1v1h-1zM459,740h2v1h-2zM500,740h1v1h-1zM515,740h1v1h-1zM792,740h1v1h-1zM959,740h1v1h-1zM1033,740h1v1h-1zM1039,740h3v1h-3zM1063,740h2v1h-2zM1073,740h3v1h-3zM1242,740h1v1h-1zM1288,740h2v1h-2zM1293,740h2v1h-2zM1301,740h1v1h-1zM165,741h1v1h-1zM186,741h1v1h-1zM188,741h2v1h-2zM240,741h1v1h-1zM357,741h2v1h-2zM386,741h2v1h-2zM435,741h1v1h-1zM447,741h1v1h-1zM458,741h1v1h-1zM501,741h1v1h-1zM513,741h2v1h-2zM516,741h1v1h-1zM763,741h2v1h-2zM791,741h1v1h-1zM960,741h1v1h-1zM993,741h4v1h-4zM1033,741h1v1h-1zM1042,741h2v1h-2zM1062,741h1v1h-1zM1076,741h1v1h-1zM1241,741h1v1h-1zM1290,741h3v1h-3zM1302,741h1v1h-1zM164,742h1v1h-1zM187,742h1v1h-1zM241,742h1v1h-1zM356,742h1v1h-1zM388,742h2v1h-2zM434,742h1v1h-1zM447,742h1v1h-1zM457,742h1v1h-1zM502,742h1v1h-1zM512,742h1v1h-1zM517,742h1v1h-1zM761,742h2v1h-2zM765,742h2v1h-2zM791,742h1v1h-1zM961,742h2v1h-2zM989,742h4v1h-4zM997,742h2v1h-2zM1032,742h1v1h-1zM1044,742h2v1h-2zM1060,742h2v1h-2zM1077,742h1v1h-1zM1240,742h1v1h-1zM1303,742h1v1h-1zM161,743h3v1h-3zM242,743h1v1h-1zM354,743h2v1h-2zM390,743h2v1h-2zM434,743h1v1h-1zM448,743h1v1h-1zM457,743h1v1h-1zM503,743h2v1h-2zM511,743h1v1h-1zM517,743h1v1h-1zM689,743h11v1h-11zM759,743h2v1h-2zM767,743h3v1h-3zM790,743h1v1h-1zM963,743h1v1h-1zM986,743h3v1h-3zM999,743h3v1h-3zM1031,743h1v1h-1zM1046,743h1v1h-1zM1058,743h2v1h-2zM1077,743h1v1h-1zM1239,743h1v1h-1zM1303,743h1v1h-1zM157,744h4v1h-4zM243,744h2v1h-2zM338,744h3v1h-3zM351,744h3v1h-3zM392,744h2v1h-2zM433,744h1v1h-1zM448,744h1v1h-1zM456,744h1v1h-1zM505,744h1v1h-1zM509,744h2v1h-2zM518,744h1v1h-1zM658,744h3v1h-3zM685,744h4v1h-4zM700,744h1v1h-1zM758,744h1v1h-1zM770,744h3v1h-3zM789,744h1v1h-1zM964,744h1v1h-1zM984,744h2v1h-2zM1002,744h2v1h-2zM1030,744h1v1h-1zM1047,744h2v1h-2zM1055,744h3v1h-3zM1078,744h1v1h-1zM1227,744h2v1h-2zM1238,744h1v1h-1zM1304,744h1v1h-1zM154,745h3v1h-3zM245,745h4v1h-4zM255,745h5v1h-5zM335,745h3v1h-3zM341,745h4v1h-4zM349,745h2v1h-2zM394,745h2v1h-2zM432,745h1v1h-1zM449,745h1v1h-1zM455,745h1v1h-1zM506,745h1v1h-1zM508,745h1v1h-1zM519,745h1v1h-1zM656,745h2v1h-2zM661,745h2v1h-2zM683,745h2v1h-2zM700,745h1v1h-1zM756,745h2v1h-2zM773,745h4v1h-4zM788,745h1v1h-1zM965,745h1v1h-1zM982,745h2v1h-2zM1004,745h1v1h-1zM1029,745h1v1h-1zM1049,745h2v1h-2zM1053,745h2v1h-2zM1079,745h1v1h-1zM1226,745h1v1h-1zM1229,745h2v1h-2zM1237,745h1v1h-1zM1305,745h1v1h-1zM152,746h2v1h-2zM249,746h6v1h-6zM260,746h1v1h-1zM289,746h3v1h-3zM333,746h2v1h-2zM345,746h4v1h-4zM396,746h1v1h-1zM432,746h1v1h-1zM449,746h1v1h-1zM454,746h1v1h-1zM507,746h1v1h-1zM520,746h1v1h-1zM654,746h2v1h-2zM663,746h3v1h-3zM681,746h2v1h-2zM701,746h1v1h-1zM751,746h5v1h-5zM777,746h11v1h-11zM966,746h1v1h-1zM980,746h2v1h-2zM1005,746h1v1h-1zM1029,746h1v1h-1zM1051,746h2v1h-2zM1080,746h1v1h-1zM1225,746h1v1h-1zM1231,746h3v1h-3zM1236,746h1v1h-1zM1306,746h1v1h-1zM98,747h2v1h-2zM150,747h2v1h-2zM261,747h1v1h-1zM285,747h4v1h-4zM292,747h2v1h-2zM313,747h3v1h-3zM330,747h3v1h-3zM397,747h1v1h-1zM431,747h1v1h-1zM450,747h1v1h-1zM453,747h1v1h-1zM521,747h1v1h-1zM652,747h2v1h-2zM666,747h2v1h-2zM680,747h1v1h-1zM701,747h1v1h-1zM747,747h4v1h-4zM967,747h2v1h-2zM978,747h2v1h-2zM1006,747h1v1h-1zM1028,747h1v1h-1zM1081,747h1v1h-1zM1224,747h1v1h-1zM1234,747h2v1h-2zM1307,747h1v1h-1zM3,748h1v1h-1zM95,748h3v1h-3zM100,748h2v1h-2zM148,748h2v1h-2zM262,748h1v1h-1zM283,748h2v1h-2zM294,748h2v1h-2zM309,748h4v1h-4zM316,748h2v1h-2zM328,748h2v1h-2zM397,748h1v1h-1zM430,748h1v1h-1zM450,748h1v1h-1zM453,748h1v1h-1zM521,748h1v1h-1zM651,748h1v1h-1zM668,748h2v1h-2zM679,748h1v1h-1zM702,748h1v1h-1zM745,748h2v1h-2zM969,748h1v1h-1zM975,748h3v1h-3zM1007,748h1v1h-1zM1025,748h3v1h-3zM1081,748h1v1h-1zM1178,748h2v1h-2zM1210,748h2v1h-2zM1223,748h1v1h-1zM1308,748h1v1h-1zM4,749h1v1h-1zM93,749h2v1h-2zM102,749h2v1h-2zM143,749h5v1h-5zM263,749h1v1h-1zM281,749h2v1h-2zM296,749h2v1h-2zM303,749h6v1h-6zM318,749h2v1h-2zM326,749h2v1h-2zM398,749h1v1h-1zM430,749h1v1h-1zM451,749h2v1h-2zM522,749h1v1h-1zM527,749h6v1h-6zM650,749h1v1h-1zM670,749h2v1h-2zM677,749h2v1h-2zM702,749h1v1h-1zM744,749h1v1h-1zM970,749h1v1h-1zM973,749h2v1h-2zM1008,749h1v1h-1zM1021,749h4v1h-4zM1082,749h1v1h-1zM1176,749h2v1h-2zM1180,749h2v1h-2zM1208,749h2v1h-2zM1212,749h2v1h-2zM1223,749h1v1h-1zM1309,749h1v1h-1zM5,750h1v1h-1zM25,750h3v1h-3zM90,750h3v1h-3zM104,750h2v1h-2zM139,750h4v1h-4zM263,750h1v1h-1zM280,750h1v1h-1zM298,750h5v1h-5zM320,750h2v1h-2zM324,750h2v1h-2zM399,750h1v1h-1zM429,750h1v1h-1zM451,750h1v1h-1zM523,750h4v1h-4zM533,750h2v1h-2zM649,750h1v1h-1zM672,750h2v1h-2zM676,750h1v1h-1zM703,750h1v1h-1zM715,750h2v1h-2zM743,750h1v1h-1zM971,750h2v1h-2zM1009,750h1v1h-1zM1017,750h4v1h-4zM1083,750h2v1h-2zM1174,750h2v1h-2zM1182,750h2v1h-2zM1206,750h2v1h-2zM1214,750h1v1h-1zM1222,750h1v1h-1zM1309,750h1v1h-1zM6,751h1v1h-1zM21,751h4v1h-4zM28,751h1v1h-1zM88,751h2v1h-2zM106,751h2v1h-2zM138,751h1v1h-1zM264,751h1v1h-1zM279,751h1v1h-1zM322,751h2v1h-2zM400,751h1v1h-1zM428,751h1v1h-1zM535,751h3v1h-3zM649,751h1v1h-1zM674,751h2v1h-2zM703,751h1v1h-1zM714,751h1v1h-1zM717,751h2v1h-2zM741,751h2v1h-2zM1010,751h1v1h-1zM1013,751h4v1h-4zM1085,751h4v1h-4zM1172,751h2v1h-2zM1184,751h2v1h-2zM1204,751h2v1h-2zM1215,751h2v1h-2zM1221,751h1v1h-1zM1310,751h1v1h-1zM7,752h1v1h-1zM19,752h2v1h-2zM29,752h1v1h-1zM86,752h2v1h-2zM108,752h1v1h-1zM137,752h1v1h-1zM265,752h1v1h-1zM277,752h2v1h-2zM401,752h1v1h-1zM428,752h1v1h-1zM538,752h13v1h-13zM648,752h1v1h-1zM704,752h1v1h-1zM713,752h1v1h-1zM719,752h3v1h-3zM727,752h8v1h-8zM740,752h1v1h-1zM1011,752h2v1h-2zM1089,752h6v1h-6zM1103,752h5v1h-5zM1167,752h5v1h-5zM1186,752h2v1h-2zM1203,752h1v1h-1zM1217,752h2v1h-2zM1220,752h1v1h-1zM1311,752h1v1h-1zM7,753h1v1h-1zM17,753h2v1h-2zM30,753h1v1h-1zM84,753h2v1h-2zM108,753h1v1h-1zM135,753h2v1h-2zM266,753h1v1h-1zM276,753h1v1h-1zM401,753h1v1h-1zM419,753h9v1h-9zM551,753h5v1h-5zM647,753h1v1h-1zM704,753h1v1h-1zM712,753h1v1h-1zM722,753h5v1h-5zM735,753h5v1h-5zM1095,753h8v1h-8zM1108,753h1v1h-1zM1163,753h4v1h-4zM1188,753h1v1h-1zM1201,753h2v1h-2zM1219,753h1v1h-1zM1312,753h1v1h-1zM8,754h1v1h-1zM15,754h2v1h-2zM31,754h1v1h-1zM81,754h3v1h-3zM109,754h1v1h-1zM134,754h1v1h-1zM267,754h9v1h-9zM402,754h1v1h-1zM417,754h2v1h-2zM556,754h1v1h-1zM646,754h1v1h-1zM705,754h1v1h-1zM711,754h1v1h-1zM1108,754h1v1h-1zM1162,754h1v1h-1zM1189,754h2v1h-2zM1200,754h1v1h-1zM1313,754h1v1h-1zM9,755h1v1h-1zM14,755h1v1h-1zM31,755h1v1h-1zM77,755h4v1h-4zM110,755h1v1h-1zM133,755h1v1h-1zM403,755h2v1h-2zM415,755h2v1h-2zM557,755h1v1h-1zM645,755h1v1h-1zM705,755h1v1h-1zM711,755h1v1h-1zM1109,755h1v1h-1zM1161,755h1v1h-1zM1191,755h1v1h-1zM1199,755h1v1h-1zM1313,755h1v1h-1zM1321,755h4v1h-4zM10,756h1v1h-1zM12,756h2v1h-2zM32,756h1v1h-1zM75,756h2v1h-2zM111,756h1v1h-1zM132,756h1v1h-1zM405,756h2v1h-2zM414,756h1v1h-1zM558,756h1v1h-1zM645,756h1v1h-1zM706,756h1v1h-1zM710,756h1v1h-1zM1109,756h1v1h-1zM1159,756h2v1h-2zM1192,756h1v1h-1zM1197,756h2v1h-2zM1314,756h1v1h-1zM1317,756h4v1h-4zM1325,756h2v1h-2zM11,757h1v1h-1zM33,757h1v1h-1zM73,757h2v1h-2zM111,757h1v1h-1zM127,757h5v1h-5zM407,757h3v1h-3zM412,757h2v1h-2zM559,757h1v1h-1zM644,757h1v1h-1zM706,757h1v1h-1zM709,757h1v1h-1zM1110,757h1v1h-1zM1158,757h1v1h-1zM1193,757h2v1h-2zM1196,757h1v1h-1zM1315,757h2v1h-2zM1327,757h3v1h-3zM34,758h1v1h-1zM71,758h2v1h-2zM112,758h1v1h-1zM122,758h5v1h-5zM410,758h2v1h-2zM559,758h1v1h-1zM627,758h4v1h-4zM639,758h5v1h-5zM707,758h2v1h-2zM1110,758h1v1h-1zM1157,758h1v1h-1zM1195,758h1v1h-1zM1330,758h2v1h-2zM35,759h1v1h-1zM70,759h1v1h-1zM113,759h1v1h-1zM120,759h2v1h-2zM560,759h1v1h-1zM625,759h2v1h-2zM631,759h8v1h-8zM707,759h1v1h-1zM1111,759h1v1h-1zM1156,759h1v1h-1zM1332,759h1v1h-1zM36,760h2v1h-2zM68,760h2v1h-2zM114,760h1v1h-1zM118,760h2v1h-2zM561,760h1v1h-1zM569,760h3v1h-3zM624,760h1v1h-1zM1112,760h1v1h-1zM1154,760h2v1h-2zM1333,760h1v1h-1zM38,761h1v1h-1zM67,761h1v1h-1zM114,761h1v1h-1zM116,761h2v1h-2zM562,761h1v1h-1zM565,761h4v1h-4zM572,761h2v1h-2zM610,761h3v1h-3zM623,761h1v1h-1zM1112,761h1v1h-1zM1152,761h2v1h-2zM1334,761h1v1h-1zM1355,761h2v1h-2zM1423,761h5v1h-5zM39,762h2v1h-2zM65,762h2v1h-2zM115,762h1v1h-1zM563,762h2v1h-2zM574,762h2v1h-2zM607,762h3v1h-3zM613,762h2v1h-2zM621,762h2v1h-2zM1113,762h1v1h-1zM1150,762h2v1h-2zM1335,762h1v1h-1zM1354,762h1v1h-1zM1357,762h2v1h-2zM1419,762h4v1h-4zM1428,762h1v1h-1zM41,763h2v1h-2zM63,763h2v1h-2zM576,763h2v1h-2zM605,763h2v1h-2zM615,763h3v1h-3zM620,763h1v1h-1zM1113,763h1v1h-1zM1148,763h2v1h-2zM1335,763h1v1h-1zM1353,763h1v1h-1zM1359,763h3v1h-3zM1418,763h1v1h-1zM1429,763h1v1h-1zM43,764h10v1h-10zM62,764h1v1h-1zM578,764h2v1h-2zM603,764h2v1h-2zM618,764h2v1h-2zM1114,764h1v1h-1zM1130,764h2v1h-2zM1147,764h1v1h-1zM1336,764h1v1h-1zM1352,764h1v1h-1zM1362,764h2v1h-2zM1417,764h1v1h-1zM1429,764h1v1h-1zM53,765h4v1h-4zM60,765h2v1h-2zM580,765h1v1h-1zM602,765h1v1h-1zM1114,765h1v1h-1zM1127,765h3v1h-3zM1132,765h2v1h-2zM1145,765h2v1h-2zM1337,765h1v1h-1zM1351,765h1v1h-1zM1364,765h1v1h-1zM1417,765h1v1h-1zM1430,765h1v1h-1zM57,766h3v1h-3zM581,766h1v1h-1zM601,766h1v1h-1zM1115,766h4v1h-4zM1125,766h2v1h-2zM1134,766h1v1h-1zM1143,766h2v1h-2zM1338,766h1v1h-1zM1351,766h1v1h-1zM1365,766h1v1h-1zM1394,766h2v1h-2zM1416,766h1v1h-1zM1431,766h1v1h-1zM1535,766h5v1h-5zM1585,766h19v1h-19zM581,767h1v1h-1zM599,767h2v1h-2zM1119,767h6v1h-6zM1135,767h2v1h-2zM1142,767h1v1h-1zM1339,767h2v1h-2zM1350,767h1v1h-1zM1366,767h1v1h-1zM1391,767h3v1h-3zM1396,767h2v1h-2zM1415,767h1v1h-1zM1432,767h1v1h-1zM1521,767h14v1h-14zM1540,767h1v1h-1zM1581,767h4v1h-4zM1604,767h1v1h-1zM582,768h1v1h-1zM598,768h1v1h-1zM1137,768h2v1h-2zM1140,768h2v1h-2zM1341,768h2v1h-2zM1349,768h1v1h-1zM1367,768h1v1h-1zM1389,768h2v1h-2zM1398,768h2v1h-2zM1414,768h1v1h-1zM1433,768h1v1h-1zM1517,768h4v1h-4zM1541,768h2v1h-2zM1575,768h6v1h-6zM1605,768h1v1h-1zM1651,768h1v1h-1zM583,769h1v1h-1zM597,769h1v1h-1zM1139,769h1v1h-1zM1343,769h3v1h-3zM1348,769h1v1h-1zM1368,769h1v1h-1zM1387,769h2v1h-2zM1400,769h2v1h-2zM1413,769h1v1h-1zM1433,769h1v1h-1zM1515,769h2v1h-2zM1543,769h1v1h-1zM1567,769h8v1h-8zM1605,769h1v1h-1zM1631,769h5v1h-5zM1650,769h1v1h-1zM1652,769h2v1h-2zM584,770h1v1h-1zM596,770h1v1h-1zM1346,770h2v1h-2zM1369,770h1v1h-1zM1385,770h2v1h-2zM1402,770h3v1h-3zM1413,770h1v1h-1zM1434,770h1v1h-1zM1514,770h1v1h-1zM1544,770h1v1h-1zM1561,770h6v1h-6zM1606,770h1v1h-1zM1627,770h4v1h-4zM1636,770h1v1h-1zM1649,770h1v1h-1zM1654,770h2v1h-2zM585,771h1v1h-1zM594,771h2v1h-2zM1370,771h1v1h-1zM1383,771h2v1h-2zM1405,771h4v1h-4zM1412,771h1v1h-1zM1435,771h10v1h-10zM1457,771h3v1h-3zM1514,771h1v1h-1zM1545,771h2v1h-2zM1557,771h4v1h-4zM1607,771h1v1h-1zM1626,771h1v1h-1zM1637,771h2v1h-2zM1647,771h2v1h-2zM1656,771h2v1h-2zM585,772h1v1h-1zM591,772h3v1h-3zM1371,772h2v1h-2zM1382,772h1v1h-1zM1409,772h3v1h-3zM1445,772h4v1h-4zM1453,772h4v1h-4zM1460,772h1v1h-1zM1513,772h1v1h-1zM1547,772h10v1h-10zM1608,772h1v1h-1zM1625,772h1v1h-1zM1639,772h1v1h-1zM1646,772h1v1h-1zM1658,772h5v1h-5zM586,773h1v1h-1zM589,773h2v1h-2zM1373,773h4v1h-4zM1380,773h2v1h-2zM1449,773h4v1h-4zM1461,773h1v1h-1zM1512,773h1v1h-1zM1609,773h1v1h-1zM1624,773h1v1h-1zM1640,773h1v1h-1zM1645,773h1v1h-1zM1663,773h4v1h-4zM587,774h2v1h-2zM1377,774h3v1h-3zM1462,774h1v1h-1zM1511,774h1v1h-1zM1609,774h1v1h-1zM1623,774h1v1h-1zM1641,774h2v1h-2zM1644,774h1v1h-1zM1463,775h1v1h-1zM1511,775h1v1h-1zM1610,775h1v1h-1zM1622,775h1v1h-1zM1643,775h1v1h-1zM1464,776h1v1h-1zM1510,776h1v1h-1zM1611,776h2v1h-2zM1621,776h1v1h-1zM1465,777h1v1h-1zM1509,777h1v1h-1zM1613,777h4v1h-4zM1620,777h1v1h-1zM1466,778h1v1h-1zM1499,778h2v1h-2zM1508,778h1v1h-1zM1617,778h3v1h-3zM1467,779h1v1h-1zM1482,779h2v1h-2zM1497,779h2v1h-2zM1501,779h4v1h-4zM1508,779h1v1h-1zM1468,780h2v1h-2zM1480,780h2v1h-2zM1484,780h2v1h-2zM1496,780h1v1h-1zM1505,780h3v1h-3zM1470,781h2v1h-2zM1478,781h2v1h-2zM1486,781h1v1h-1zM1495,781h1v1h-1zM1472,782h2v1h-2zM1476,782h2v1h-2zM1487,782h2v1h-2zM1493,782h2v1h-2zM1474,783h2v1h-2zM1489,783h2v1h-2zM1492,783h1v1h-1zM1491,784h1v1h-1z" fill="#1E90FF"/><rect x="1689" y="33" width="2" height="1" fill="#000"/><text x="1693.6" y="37" font-size="10" fill="#000" textLength="27.8" lengthAdjust="spacingAndGlyphs">5903.0</text><rect x="1689" y="66" width="2" height="1" fill="#000"/><text x="1693.6" y="70" font-size="10" fill="#000" textLength="27.8" lengthAdjust="spacingAndGlyphs">5821.0</text><rect x="1689" y="99" width="2" height="1" fill="#000"/><text x="1693.6" y="103" font-size="10" fill="#000" textLength="27.8" lengthAdjust="spacingAndGlyphs">5739.0</text><rect x="1689" y="132" width="2" height="1" fill="#000"/><text x="1693.6" y="136" font-size="10" fill="#000" textLength="27.8" lengthAdjust="spacingAndGlyphs">5657.0</text><rect x="1689" y="165" width="2" height="1" fill="#000"/><text x="1693.6" y="169" font-size="10" fill="#000" textLength="27.8" lengthAdjust="spacingAndGlyphs">5575.0</text><rect x="1689" y="198" width="2" height="1" fill="#000"/><text x="1693.6" y="202" font-size="10" fill="#000" textLength="27.8" lengthAdjust="spacingAndGlyphs">5493.0</text><rect x="1689" y="231" width="2" height="1" fill="#000"/><text x="1693.6" y="235" font-size="10" fill="#000" textLength="27.8" lengthAdjust="spacingAndGlyphs">5411.0</text><rect x="1689" y="264" width="2" height="1" fill="#000"/><text x="1693.6" y="268" font-size="10" fill="#000" textLength="27.8" lengthAdjust="spacingAndGlyphs">5329.0</text><rect x="1689" y="297" width="2" height="1" fill="#000"/><text x="1693.6" y="301" font-size="10" fill="#000" textLength="27.8" lengthAdjust="spacingAndGlyphs">5247.0</text><rect x="1689" y="330" width="2" height="1" fill="#000"/><text x="1693.6" y="334" font-size="10" fill="#000" textLength="27.8" lengthAdjust="spacingAndGlyphs">5165.0</text><rect x="1689" y="363" width="2" height="1" fill="#000"/><text x="1693.6" y="367" font-size="10" fill="#000" textLength="27.8" lengthAdjust="spacingAndGlyphs">5083.0</text><rect x="1689" y="396" width="2" height="1" fill="#000"/><text x="1693.6" y="400" font-size="10" fill="#000" textLength="27.8" lengthAdjust="spacingAndGlyphs">5003.0</text><rect x="1689" y="429" width="2" height="1" fill="#000"/><text x="1693.6" y="433" font-size="10" fill="#000" textLength="27.8" lengthAdjust="spacingAndGlyphs">4921.0</text><rect x="1689" y="462" width="2" height="1" fill="#000"/><text x="1693.6" y="466" font-size="10" fill="#000" textLength="27.8" lengthAdjust="spacingAndGlyphs">4839.0</text><rect x="1689" y="495" width="2" height="1" fill="#000"/><text x="1693.6" y="499" font-size="10" fill="#000" textLength="27.8" lengthAdjust="spacingAndGlyphs">4757.0</text><rect x="1689" y="528" width="2" height="1" fill="#000"/><text x="1693.6" y="532" font-size="10" fill="#000" textLength="27.8" lengthAdjust="spacingAndGlyphs">4675.0</text><rect x="1689" y="561" width="2" height="1" fill="#000"/><text x="1693.6" y="565" font-size="10" fill="#000" textLength="27.8" lengthAdjust="spacingAndGlyphs">4593.0</text><rect x="1690" y="141" width="31" height="11" fill="#FF0000"/><text x="1693.6" y="150" font-size="10" fill="#fff" textLength="27.8" lengthAdjust="spacingAndGlyphs">5620.0</text><rect x="1690" y="224" width="31" height="11" fill="#FF0000"/><text x="1693.6" y="233" font-size="10" fill="#fff" textLength="27.8" lengthAdjust="spacingAndGlyphs">5415.0</text><rect x="1690" y="276" width="31" height="11" fill="#FF0000"/><text x="1693.6" y="285" font-size="10" fill="#fff" textLength="27.8" lengthAdjust="spacingAndGlyphs">5285.0</text><rect x="1690" y="359" width="31" height="11" fill="#32CD32"/><text x="1693.6" y="368" font-size="10" fill="#fff" textLength="27.8" lengthAdjust="spacingAndGlyphs">5080.0</text><rect x="1690" y="426" width="31" height="11" fill="#000"/><text x="1693.6" y="435" font-size="10" fill="#fff" textLength="27.8" lengthAdjust="spacingAndGlyphs">4916.2</text><rect x="1690" y="441" width="31" height="11" fill="#4169E1"/><text x="1693.6" y="450" font-size="10" fill="#fff" textLength="27.8" lengthAdjust="spacingAndGlyphs">4875.0</text><rect x="1690" y="484" width="31" height="11" fill="#4169E1"/><text x="1693.6" y="493" font-size="10" fill="#fff" textLength="27.8" lengthAdjust="spacingAndGlyphs">4770.0</text><rect x="1689" y="568" width="1" height="1" fill="#000"/><rect x="1689" y="628" width="1" height="1" fill="#000"/><rect x="1689" y="690" width="1" height="1" fill="#000"/><text x="1691.6" y="577" font-size="10" fill="#000" textLength="27.8" lengthAdjust="spacingAndGlyphs">139.86</text><text x="1691.4" y="632" font-size="10" fill="#000" textLength="18.6" lengthAdjust="spacingAndGlyphs">0.00</text><text x="1691.4" y="688" font-size="10" fill="#000" textLength="31" lengthAdjust="spacingAndGlyphs">-143.82</text><rect x="1689" y="695" width="1" height="1" fill="#000"/><rect x="1689" y="817" width="1" height="2" fill="#000"/><text x="1691.6" y="704" font-size="10" fill="#000" textLength="14.6" lengthAdjust="spacingAndGlyphs">100</text><text x="1690.4" y="735" font-size="10" fill="#000" textLength="10.6" lengthAdjust="spacingAndGlyphs">70</text><text x="1690.4" y="785" font-size="10" fill="#000" textLength="10.6" lengthAdjust="spacingAndGlyphs">30</text><text x="1691.4" y="815" font-size="10" fill="#000" textLength="5.3" lengthAdjust="spacingAndGlyphs">0</text><rect x="3" y="819" width="1" height="3" fill="#000"/><text x="2.1" y="831" font-size="10" fill="#000" textLength="51.4" lengthAdjust="spacingAndGlyphs">21 Oct 2020</text><rect x="67" y="819" width="1" height="3" fill="#000"/><text x="66.1" y="831" font-size="10" fill="#000" textLength="54.4" lengthAdjust="spacingAndGlyphs">27 Oct 05:00</text><rect x="131" y="819" width="1" height="3" fill="#000"/><text x="130.1" y="831" font-size="10" fill="#000" textLength="51.9" lengthAdjust="spacingAndGlyphs">2 Nov 05:00</text><rect x="195" y="819" width="1" height="3" fill="#000"/><text x="194.1" y="831" font-size="10" fill="#000" textLength="50.9" lengthAdjust="spacingAndGlyphs">6 Nov 05:00</text><rect x="259" y="819" width="1" height="3" fill="#000"/><text x="258.1" y="831" font-size="10" fill="#000" textLength="56.5" lengthAdjust="spacingAndGlyphs">12 Nov 05:00</text><rect x="323" y="819" width="1" height="3" fill="#000"/><text x="322.1" y="831" font-size="10" fill="#000" textLength="56.5" lengthAdjust="spacingAndGlyphs">18 Nov 05:00</text><rect x="387" y="819" width="1" height="3" fill="#000"/><text x="386.1" y="831" font-size="10" fill="#000" textLength="56.2" lengthAdjust="spacingAndGlyphs">24 Nov 05:00</text><rect x="451" y="819" width="1" height="3" fill="#000"/><text x="450.1" y="831" font-size="10" fill="#000" textLength="56.5" lengthAdjust="spacingAndGlyphs">30 Nov 05:00</text><rect x="515" y="819" width="1" height="3" fill="#000"/><text x="514.1" y="831" font-size="10" fill="#000" textLength="49.6" lengthAdjust="spacingAndGlyphs">4 Dec 05:00</text><rect x="579" y="819" width="1" height="3" fill="#000"/><text x="578.1" y="831" font-size="10" fill="#000" textLength="55.1" lengthAdjust="spacingAndGlyphs">10 Dec 05:00</text><rect x="643" y="819" width="1" height="3" fill="#000"/><text x="642.1" y="831" font-size="10" fill="#000" textLength="56.0" lengthAdjust="spacingAndGlyphs">16 Dec 05:00</text><rect x="707" y="819" width="1" height="3" fill="#000"/><text x="706.1" y="831" font-size="10" fill="#000" textLength="56.0" lengthAdjust="spacingAndGlyphs">22 Dec 05:00</text><rect x="771" y="819" width="1" height="3" fill="#000"/><text x="770.1" y="831" font-size="10" fill="#000" textLength="56.0" lengthAdjust="spacingAndGlyphs">28 Dec 05:00</text><rect x="835" y="819" width="1" height="3" fill="#000"/><text x="834.1" y="831" font-size="10" fill="#000" textLength="47.4" lengthAdjust="spacingAndGlyphs">4 Jan 05:00</text><rect x="899" y="819" width="1" height="3" fill="#000"/><text x="898.1" y="831" font-size="10" fill="#000" textLength="48.0" lengthAdjust="spacingAndGlyphs">8 Jan 05:00</text><rect x="963" y="819" width="1" height="3" fill="#000"/><text x="962.1" y="831" font-size="10" fill="#000" textLength="52.5" lengthAdjust="spacingAndGlyphs">14 Jan 05:00</text><rect x="1027" y="819" width="1" height="3" fill="#000"/><text x="1026.1" y="831" font-size="10" fill="#000" textLength="52.7" lengthAdjust="spacingAndGlyphs">20 Jan 05:00</text><rect x="1091" y="819" width="1" height="3" fill="#000"/><text x="1090.1" y="831" font-size="10" fill="#000" textLength="52.7" lengthAdjust="spacingAndGlyphs">26 Jan 05:00</text><rect x="1155" y="819" width="1" height="3" fill="#000"/><text x="1154.1" y="831" font-size="10" fill="#000" textLength="49.4" lengthAdjust="spacingAndGlyphs">1 Feb 05:00</text><rect x="1219" y="819" width="1" height="3" fill="#000"/><text x="1218.1" y="831" font-size="10" fill="#000" textLength="49.3" lengthAdjust="spacingAndGlyphs">5 Feb 05:00</text><rect x="1283" y="819" width="1" height="3" fill="#000"/><text x="1282.1" y="831" font-size="10" fill="#000" textLength="54.5" lengthAdjust="spacingAndGlyphs">18 Feb 05:00</text><rect x="1347" y="819" width="1" height="3" fill="#000"/><text x="1346.1" y="831" font-size="10" fill="#000" textLength="54.0" lengthAdjust="spacingAndGlyphs">24 Feb 05:00</text><rect x="1411" y="819" width="1" height="3" fill="#000"/><text x="1410.1" y="831" font-size="10" fill="#000" textLength="49.4" lengthAdjust="spacingAndGlyphs">2 Mar 05:00</text><rect x="1475" y="819" width="1" height="3" fill="#000"/><text x="1474.1" y="831" font-size="10" fill="#000" textLength="49.4" lengthAdjust="spacingAndGlyphs">8 Mar 05:00</text><rect x="1539" y="819" width="1" height="3" fill="#000"/><text x="1538.1" y="831" font-size="10" fill="#000" textLength="54.6" lengthAdjust="spacingAndGlyphs">12 Mar 05:00</text><rect x="1603" y="819" width="1" height="3" fill="#000"/><text x="1602.1" y="831" font-size="10" fill="#000" textLength="54.5" lengthAdjust="spacingAndGlyphs">18 Mar 05:00</text><rect x="1667" y="819" width="1" height="3" fill="#000"/><text x="1666.1" y="831" font-size="10" fill="#000" textLength="55.6" lengthAdjust="spacingAndGlyphs">24 Mar 05:00</text><path d="M6,9h7v1h-1v1h-1v1h-1v1h-1v-1h-1v-1h-1v-1h-1z" fill="#000"/><text x="18" y="14" font-size="10" fill="#000" textLength="65.2" lengthAdjust="spacingAndGlyphs">CHINA300-,H4</text><text x="88.4" y="14" font-size="10" fill="#000" textLength="122" lengthAdjust="spacingAndGlyphs">4925.4 4930.5 4894.4 4916.2</text><text x="6.8" y="579" font-size="10" fill="#000" textLength="124" lengthAdjust="spacingAndGlyphs">MACD(12,26,9) -76.06 -75.34</text><text x="6.8" y="706" font-size="10" fill="#000" textLength="67.9" lengthAdjust="spacingAndGlyphs">RSI(14) 35.5691</text><rect x="0" y="839" width="1721" height="1" fill="#E3E3E3"/><rect x="0" y="841" width="341" height="1" fill="#000"/><rect x="447" y="841" width="1274" height="1" fill="#000"/><path d="M1356,842 L1361,840 L1367,840 L1367,842 Z" fill="#F07030"/></svg></body></html>
